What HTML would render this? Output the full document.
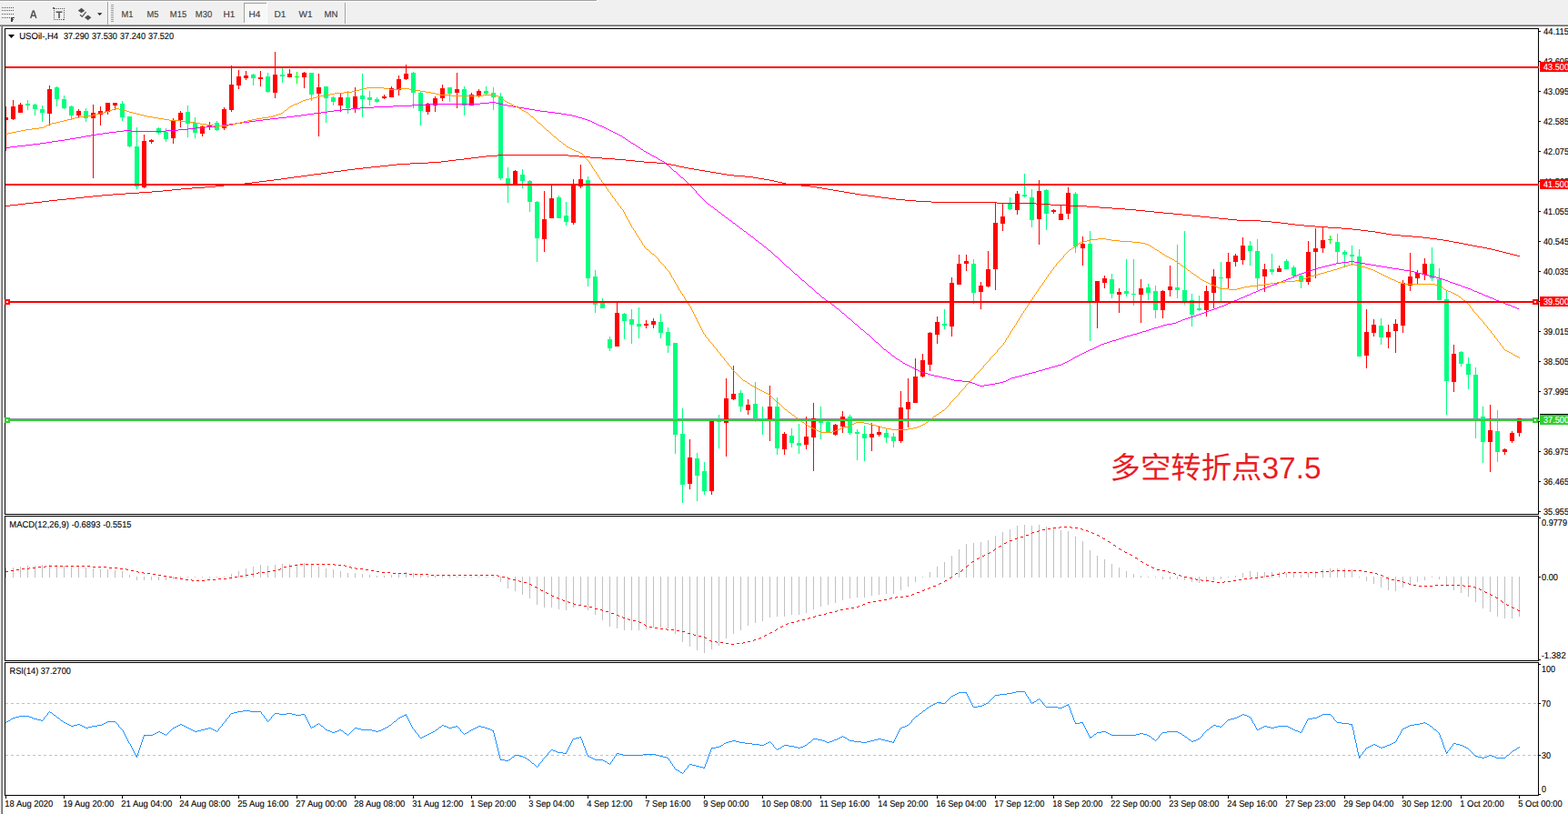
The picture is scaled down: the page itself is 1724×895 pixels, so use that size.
<!DOCTYPE html>
<html><head><meta charset="utf-8"><title>USOil H4</title><style>html,body{margin:0;padding:0;background:#fff;overflow:hidden}body{width:1724px;height:895px;position:relative;font-family:"Liberation Sans",sans-serif}</style></head><body><svg width="1724" height="895" viewBox="0 0 1724 895" style="position:absolute;left:0;top:0" font-family="Liberation Sans, sans-serif" text-rendering="geometricPrecision">
<g shape-rendering="crispEdges">
<rect x="0" y="0" width="1724" height="895" fill="#fff"/>
<rect x="0" y="0" width="1724" height="27" fill="#f0f0f0"/>
<rect x="0" y="0" width="656" height="1" fill="#a0a0a0"/>
<rect x="0" y="1" width="657" height="1" fill="#fff"/><rect x="656" y="0" width="1" height="1" fill="#fff"/>
<rect x="0" y="27" width="1724" height="1" fill="#a0a0a0"/>
<rect x="0" y="28" width="1724" height="1" fill="#696969"/>
<rect x="0" y="29" width="1" height="866" fill="#f0f0f0"/>
<rect x="1" y="28" width="1" height="867" fill="#a0a0a0"/>
<rect x="2" y="28" width="1" height="867" fill="#696969"/>
<rect x="5" y="31" width="1687" height="1" fill="#000"/><rect x="5" y="565" width="1687" height="1" fill="#000"/><rect x="5" y="31" width="1" height="535" fill="#000"/><rect x="1691" y="31" width="1" height="535" fill="#000"/>
<rect x="5" y="567" width="1687" height="1" fill="#000"/><rect x="5" y="726" width="1687" height="1" fill="#000"/><rect x="5" y="567" width="1" height="160" fill="#000"/><rect x="1691" y="567" width="1" height="160" fill="#000"/>
<rect x="5" y="728" width="1687" height="1" fill="#000"/><rect x="5" y="874" width="1687" height="1" fill="#000"/><rect x="5" y="728" width="1" height="147" fill="#000"/><rect x="1691" y="728" width="1" height="147" fill="#000"/>
</g>
<defs><clipPath id="cm"><rect x="6" y="32" width="1686" height="533"/></clipPath><clipPath id="cd"><rect x="6" y="568" width="1685" height="158"/></clipPath><clipPath id="cr"><rect x="6" y="729" width="1685" height="145"/></clipPath></defs>
<g clip-path="url(#cm)" shape-rendering="crispEdges">
<rect x="6" y="460" width="1685" height="1" fill="#8a8fa6"/>
<rect x="6" y="117" width="1" height="49" fill="#ff0000"/><rect x="4" y="129" width="5" height="3" fill="#ff0000"/><rect x="14" y="110" width="1" height="22" fill="#ff0000"/><rect x="12" y="117" width="5" height="14" fill="#ff0000"/><rect x="22" y="113" width="1" height="11" fill="#ff0000"/><rect x="20" y="115" width="5" height="9" fill="#ff0000"/><rect x="30" y="110" width="1" height="11" fill="#00ff7f"/><rect x="28" y="114" width="5" height="2" fill="#00ff7f"/><rect x="38" y="114" width="1" height="13" fill="#00ff7f"/><rect x="36" y="115" width="5" height="5" fill="#00ff7f"/><rect x="46" y="116" width="1" height="18" fill="#00ff7f"/><rect x="44" y="120" width="5" height="4" fill="#00ff7f"/><rect x="54" y="94" width="1" height="44" fill="#ff0000"/><rect x="52" y="98" width="5" height="27" fill="#ff0000"/><rect x="62" y="95" width="1" height="22" fill="#00ff7f"/><rect x="60" y="96" width="5" height="13" fill="#00ff7f"/><rect x="70" y="105" width="1" height="15" fill="#00ff7f"/><rect x="68" y="109" width="5" height="10" fill="#00ff7f"/><rect x="78" y="116" width="1" height="16" fill="#00ff7f"/><rect x="76" y="117" width="5" height="10" fill="#00ff7f"/><rect x="86" y="120" width="1" height="10" fill="#ff0000"/><rect x="84" y="122" width="5" height="5" fill="#ff0000"/><rect x="94" y="119" width="1" height="15" fill="#00ff7f"/><rect x="92" y="122" width="5" height="8" fill="#00ff7f"/><rect x="102" y="115" width="1" height="81" fill="#ff0000"/><rect x="100" y="124" width="5" height="6" fill="#ff0000"/><rect x="110" y="117" width="1" height="21" fill="#ff0000"/><rect x="108" y="122" width="5" height="4" fill="#ff0000"/><rect x="118" y="113" width="1" height="13" fill="#ff0000"/><rect x="116" y="113" width="5" height="10" fill="#ff0000"/><rect x="126" y="113" width="1" height="8" fill="#ff0000"/><rect x="124" y="113" width="5" height="3" fill="#ff0000"/><rect x="134" y="111" width="1" height="22" fill="#00ff7f"/><rect x="132" y="114" width="5" height="15" fill="#00ff7f"/><rect x="142" y="128" width="1" height="34" fill="#00ff7f"/><rect x="140" y="128" width="5" height="33" fill="#00ff7f"/><rect x="150" y="140" width="1" height="68" fill="#00ff7f"/><rect x="148" y="161" width="5" height="44" fill="#00ff7f"/><rect x="158" y="148" width="1" height="59" fill="#ff0000"/><rect x="156" y="155" width="5" height="51" fill="#ff0000"/><rect x="166" y="153" width="1" height="5" fill="#ff0000"/><rect x="164" y="154" width="5" height="2" fill="#ff0000"/><rect x="174" y="140" width="1" height="8" fill="#00ff7f"/><rect x="172" y="141" width="5" height="5" fill="#00ff7f"/><rect x="182" y="141" width="1" height="15" fill="#00ff7f"/><rect x="180" y="145" width="5" height="8" fill="#00ff7f"/><rect x="190" y="130" width="1" height="28" fill="#ff0000"/><rect x="188" y="132" width="5" height="20" fill="#ff0000"/><rect x="198" y="122" width="1" height="18" fill="#ff0000"/><rect x="196" y="124" width="5" height="8" fill="#ff0000"/><rect x="206" y="116" width="1" height="35" fill="#00ff7f"/><rect x="204" y="123" width="5" height="13" fill="#00ff7f"/><rect x="214" y="129" width="1" height="23" fill="#00ff7f"/><rect x="212" y="135" width="5" height="11" fill="#00ff7f"/><rect x="222" y="138" width="1" height="12" fill="#ff0000"/><rect x="220" y="139" width="5" height="8" fill="#ff0000"/><rect x="230" y="134" width="1" height="9" fill="#ff0000"/><rect x="228" y="137" width="5" height="3" fill="#ff0000"/><rect x="238" y="133" width="1" height="11" fill="#00ff7f"/><rect x="236" y="135" width="5" height="8" fill="#00ff7f"/><rect x="246" y="118" width="1" height="25" fill="#ff0000"/><rect x="244" y="120" width="5" height="21" fill="#ff0000"/><rect x="254" y="72" width="1" height="51" fill="#ff0000"/><rect x="252" y="93" width="5" height="28" fill="#ff0000"/><rect x="262" y="77" width="1" height="21" fill="#ff0000"/><rect x="260" y="84" width="5" height="10" fill="#ff0000"/><rect x="270" y="78" width="1" height="10" fill="#ff0000"/><rect x="268" y="83" width="5" height="3" fill="#ff0000"/><rect x="278" y="81" width="1" height="13" fill="#00ff7f"/><rect x="276" y="82" width="5" height="4" fill="#00ff7f"/><rect x="286" y="78" width="1" height="17" fill="#ff0000"/><rect x="284" y="85" width="5" height="2" fill="#ff0000"/><rect x="294" y="80" width="1" height="22" fill="#00ff7f"/><rect x="292" y="84" width="5" height="17" fill="#00ff7f"/><rect x="302" y="57" width="1" height="51" fill="#ff0000"/><rect x="300" y="82" width="5" height="20" fill="#ff0000"/><rect x="310" y="75" width="1" height="16" fill="#00ff7f"/><rect x="308" y="82" width="5" height="2" fill="#00ff7f"/><rect x="318" y="76" width="1" height="9" fill="#ff0000"/><rect x="316" y="81" width="5" height="4" fill="#ff0000"/><rect x="326" y="79" width="1" height="13" fill="#00ff00"/><rect x="324" y="84" width="5" height="1" fill="#00ff00"/><rect x="334" y="79" width="1" height="18" fill="#ff0000"/><rect x="332" y="80" width="5" height="5" fill="#ff0000"/><rect x="342" y="80" width="1" height="31" fill="#00ff7f"/><rect x="340" y="80" width="5" height="24" fill="#00ff7f"/><rect x="350" y="81" width="1" height="69" fill="#ff0000"/><rect x="348" y="96" width="5" height="7" fill="#ff0000"/><rect x="358" y="95" width="1" height="40" fill="#00ff7f"/><rect x="356" y="95" width="5" height="13" fill="#00ff7f"/><rect x="366" y="106" width="1" height="10" fill="#00ff7f"/><rect x="364" y="107" width="5" height="5" fill="#00ff7f"/><rect x="374" y="103" width="1" height="20" fill="#ff0000"/><rect x="372" y="107" width="5" height="9" fill="#ff0000"/><rect x="382" y="100" width="1" height="25" fill="#00ff7f"/><rect x="380" y="107" width="5" height="12" fill="#00ff7f"/><rect x="390" y="96" width="1" height="28" fill="#ff0000"/><rect x="388" y="106" width="5" height="13" fill="#ff0000"/><rect x="398" y="81" width="1" height="48" fill="#00ff7f"/><rect x="396" y="105" width="5" height="4" fill="#00ff7f"/><rect x="406" y="100" width="1" height="16" fill="#00ff7f"/><rect x="404" y="107" width="5" height="3" fill="#00ff7f"/><rect x="414" y="107" width="1" height="6" fill="#00ff7f"/><rect x="412" y="109" width="5" height="3" fill="#00ff7f"/><rect x="422" y="104" width="1" height="5" fill="#ff0000"/><rect x="420" y="106" width="5" height="2" fill="#ff0000"/><rect x="430" y="95" width="1" height="12" fill="#ff0000"/><rect x="428" y="97" width="5" height="10" fill="#ff0000"/><rect x="438" y="83" width="1" height="22" fill="#ff0000"/><rect x="436" y="87" width="5" height="12" fill="#ff0000"/><rect x="446" y="71" width="1" height="17" fill="#ff0000"/><rect x="444" y="81" width="5" height="6" fill="#ff0000"/><rect x="454" y="79" width="1" height="40" fill="#00ff7f"/><rect x="452" y="80" width="5" height="22" fill="#00ff7f"/><rect x="462" y="100" width="1" height="38" fill="#00ff7f"/><rect x="460" y="102" width="5" height="20" fill="#00ff7f"/><rect x="470" y="113" width="1" height="13" fill="#ff0000"/><rect x="468" y="114" width="5" height="9" fill="#ff0000"/><rect x="478" y="106" width="1" height="17" fill="#ff0000"/><rect x="476" y="108" width="5" height="8" fill="#ff0000"/><rect x="486" y="93" width="1" height="18" fill="#ff0000"/><rect x="484" y="97" width="5" height="11" fill="#ff0000"/><rect x="494" y="96" width="1" height="16" fill="#00ff7f"/><rect x="492" y="96" width="5" height="7" fill="#00ff7f"/><rect x="502" y="80" width="1" height="39" fill="#ff0000"/><rect x="500" y="98" width="5" height="4" fill="#ff0000"/><rect x="510" y="95" width="1" height="32" fill="#00ff7f"/><rect x="508" y="98" width="5" height="18" fill="#00ff7f"/><rect x="518" y="102" width="1" height="14" fill="#ff0000"/><rect x="516" y="104" width="5" height="12" fill="#ff0000"/><rect x="526" y="98" width="1" height="9" fill="#ff0000"/><rect x="524" y="100" width="5" height="5" fill="#ff0000"/><rect x="534" y="95" width="1" height="9" fill="#00ff7f"/><rect x="532" y="100" width="5" height="3" fill="#00ff7f"/><rect x="542" y="96" width="1" height="25" fill="#00ff7f"/><rect x="540" y="102" width="5" height="5" fill="#00ff7f"/><rect x="550" y="102" width="1" height="96" fill="#00ff7f"/><rect x="548" y="106" width="5" height="90" fill="#00ff7f"/><rect x="558" y="184" width="1" height="39" fill="#00ff7f"/><rect x="556" y="196" width="5" height="6" fill="#00ff7f"/><rect x="566" y="187" width="1" height="15" fill="#ff0000"/><rect x="564" y="188" width="5" height="14" fill="#ff0000"/><rect x="574" y="186" width="1" height="21" fill="#00ff7f"/><rect x="572" y="192" width="5" height="7" fill="#00ff7f"/><rect x="582" y="198" width="1" height="35" fill="#00ff7f"/><rect x="580" y="199" width="5" height="23" fill="#00ff7f"/><rect x="590" y="221" width="1" height="67" fill="#00ff7f"/><rect x="588" y="222" width="5" height="40" fill="#00ff7f"/><rect x="598" y="210" width="1" height="67" fill="#ff0000"/><rect x="596" y="241" width="5" height="22" fill="#ff0000"/><rect x="606" y="203" width="1" height="37" fill="#ff0000"/><rect x="604" y="218" width="5" height="22" fill="#ff0000"/><rect x="614" y="215" width="1" height="25" fill="#00ff7f"/><rect x="612" y="217" width="5" height="23" fill="#00ff7f"/><rect x="622" y="222" width="1" height="26" fill="#00ff7f"/><rect x="620" y="237" width="5" height="7" fill="#00ff7f"/><rect x="630" y="197" width="1" height="50" fill="#ff0000"/><rect x="628" y="203" width="5" height="42" fill="#ff0000"/><rect x="638" y="181" width="1" height="26" fill="#ff0000"/><rect x="636" y="197" width="5" height="8" fill="#ff0000"/><rect x="646" y="194" width="1" height="121" fill="#00ff7f"/><rect x="644" y="198" width="5" height="108" fill="#00ff7f"/><rect x="654" y="297" width="1" height="47" fill="#00ff7f"/><rect x="652" y="304" width="5" height="31" fill="#00ff7f"/><rect x="662" y="328" width="1" height="11" fill="#00ff7f"/><rect x="660" y="333" width="5" height="6" fill="#00ff7f"/><rect x="670" y="370" width="1" height="16" fill="#00ff7f"/><rect x="668" y="373" width="5" height="10" fill="#00ff7f"/><rect x="678" y="332" width="1" height="49" fill="#ff0000"/><rect x="676" y="344" width="5" height="37" fill="#ff0000"/><rect x="686" y="344" width="1" height="29" fill="#00ff7f"/><rect x="684" y="345" width="5" height="8" fill="#00ff7f"/><rect x="694" y="340" width="1" height="38" fill="#00ff7f"/><rect x="692" y="351" width="5" height="6" fill="#00ff7f"/><rect x="702" y="338" width="1" height="34" fill="#00ff7f"/><rect x="700" y="356" width="5" height="3" fill="#00ff7f"/><rect x="710" y="352" width="1" height="9" fill="#ff0000"/><rect x="708" y="356" width="5" height="2" fill="#ff0000"/><rect x="718" y="350" width="1" height="11" fill="#ff0000"/><rect x="716" y="353" width="5" height="4" fill="#ff0000"/><rect x="726" y="345" width="1" height="27" fill="#00ff7f"/><rect x="724" y="354" width="5" height="12" fill="#00ff7f"/><rect x="734" y="360" width="1" height="28" fill="#00ff7f"/><rect x="732" y="365" width="5" height="15" fill="#00ff7f"/><rect x="742" y="377" width="1" height="122" fill="#00ff7f"/><rect x="740" y="377" width="5" height="101" fill="#00ff7f"/><rect x="750" y="449" width="1" height="104" fill="#00ff7f"/><rect x="748" y="477" width="5" height="56" fill="#00ff7f"/><rect x="758" y="483" width="1" height="55" fill="#ff0000"/><rect x="756" y="503" width="5" height="29" fill="#ff0000"/><rect x="766" y="498" width="1" height="53" fill="#00ff7f"/><rect x="764" y="504" width="5" height="19" fill="#00ff7f"/><rect x="774" y="508" width="1" height="36" fill="#00ff7f"/><rect x="772" y="518" width="5" height="22" fill="#00ff7f"/><rect x="782" y="462" width="1" height="82" fill="#ff0000"/><rect x="780" y="462" width="5" height="78" fill="#ff0000"/><rect x="790" y="456" width="1" height="37" fill="#00ff7f"/><rect x="788" y="461" width="5" height="3" fill="#00ff7f"/><rect x="798" y="416" width="1" height="86" fill="#ff0000"/><rect x="796" y="438" width="5" height="27" fill="#ff0000"/><rect x="806" y="402" width="1" height="38" fill="#ff0000"/><rect x="804" y="433" width="5" height="6" fill="#ff0000"/><rect x="814" y="429" width="1" height="24" fill="#00ff7f"/><rect x="812" y="432" width="5" height="15" fill="#00ff7f"/><rect x="822" y="439" width="1" height="17" fill="#ff0000"/><rect x="820" y="445" width="5" height="6" fill="#ff0000"/><rect x="830" y="420" width="1" height="44" fill="#00ff7f"/><rect x="828" y="444" width="5" height="16" fill="#00ff7f"/><rect x="838" y="447" width="1" height="31" fill="#00ff7f"/><rect x="836" y="460" width="5" height="2" fill="#00ff7f"/><rect x="846" y="424" width="1" height="61" fill="#ff0000"/><rect x="844" y="447" width="5" height="14" fill="#ff0000"/><rect x="854" y="437" width="1" height="63" fill="#00ff7f"/><rect x="852" y="447" width="5" height="46" fill="#00ff7f"/><rect x="862" y="475" width="1" height="25" fill="#ff0000"/><rect x="860" y="477" width="5" height="17" fill="#ff0000"/><rect x="870" y="471" width="1" height="21" fill="#00ff7f"/><rect x="868" y="479" width="5" height="8" fill="#00ff7f"/><rect x="878" y="466" width="1" height="33" fill="#00ff7f"/><rect x="876" y="487" width="5" height="3" fill="#00ff7f"/><rect x="886" y="458" width="1" height="36" fill="#ff0000"/><rect x="884" y="480" width="5" height="9" fill="#ff0000"/><rect x="894" y="443" width="1" height="75" fill="#ff0000"/><rect x="892" y="460" width="5" height="21" fill="#ff0000"/><rect x="902" y="447" width="1" height="36" fill="#00ff7f"/><rect x="900" y="462" width="5" height="3" fill="#00ff7f"/><rect x="910" y="463" width="1" height="13" fill="#00ff7f"/><rect x="908" y="464" width="5" height="11" fill="#00ff7f"/><rect x="918" y="466" width="1" height="13" fill="#ff0000"/><rect x="916" y="467" width="5" height="11" fill="#ff0000"/><rect x="926" y="452" width="1" height="24" fill="#ff0000"/><rect x="924" y="458" width="5" height="11" fill="#ff0000"/><rect x="934" y="456" width="1" height="22" fill="#00ff7f"/><rect x="932" y="458" width="5" height="18" fill="#00ff7f"/><rect x="942" y="472" width="1" height="34" fill="#00ff7f"/><rect x="940" y="475" width="5" height="2" fill="#00ff7f"/><rect x="950" y="468" width="1" height="39" fill="#00ff7f"/><rect x="948" y="477" width="5" height="5" fill="#00ff7f"/><rect x="958" y="465" width="1" height="31" fill="#ff0000"/><rect x="956" y="477" width="5" height="4" fill="#ff0000"/><rect x="966" y="469" width="1" height="11" fill="#ff0000"/><rect x="964" y="475" width="5" height="3" fill="#ff0000"/><rect x="974" y="472" width="1" height="15" fill="#00ff7f"/><rect x="972" y="476" width="5" height="5" fill="#00ff7f"/><rect x="982" y="476" width="1" height="16" fill="#00ff7f"/><rect x="980" y="480" width="5" height="5" fill="#00ff7f"/><rect x="990" y="430" width="1" height="57" fill="#ff0000"/><rect x="988" y="448" width="5" height="37" fill="#ff0000"/><rect x="998" y="416" width="1" height="54" fill="#ff0000"/><rect x="996" y="442" width="5" height="8" fill="#ff0000"/><rect x="1006" y="394" width="1" height="49" fill="#ff0000"/><rect x="1004" y="414" width="5" height="29" fill="#ff0000"/><rect x="1014" y="389" width="1" height="26" fill="#ff0000"/><rect x="1012" y="396" width="5" height="18" fill="#ff0000"/><rect x="1022" y="365" width="1" height="43" fill="#ff0000"/><rect x="1020" y="366" width="5" height="35" fill="#ff0000"/><rect x="1030" y="348" width="1" height="30" fill="#ff0000"/><rect x="1028" y="354" width="5" height="14" fill="#ff0000"/><rect x="1038" y="340" width="1" height="22" fill="#00ff7f"/><rect x="1036" y="356" width="5" height="2" fill="#00ff7f"/><rect x="1046" y="305" width="1" height="65" fill="#ff0000"/><rect x="1044" y="311" width="5" height="48" fill="#ff0000"/><rect x="1054" y="280" width="1" height="33" fill="#ff0000"/><rect x="1052" y="290" width="5" height="23" fill="#ff0000"/><rect x="1062" y="280" width="1" height="18" fill="#ff0000"/><rect x="1060" y="287" width="5" height="3" fill="#ff0000"/><rect x="1070" y="285" width="1" height="49" fill="#00ff7f"/><rect x="1068" y="290" width="5" height="32" fill="#00ff7f"/><rect x="1078" y="310" width="1" height="30" fill="#ff0000"/><rect x="1076" y="314" width="5" height="7" fill="#ff0000"/><rect x="1086" y="276" width="1" height="40" fill="#ff0000"/><rect x="1084" y="296" width="5" height="19" fill="#ff0000"/><rect x="1094" y="223" width="1" height="96" fill="#ff0000"/><rect x="1092" y="245" width="5" height="51" fill="#ff0000"/><rect x="1102" y="223" width="1" height="31" fill="#ff0000"/><rect x="1100" y="238" width="5" height="8" fill="#ff0000"/><rect x="1110" y="217" width="1" height="14" fill="#00ff7f"/><rect x="1108" y="224" width="5" height="6" fill="#00ff7f"/><rect x="1118" y="210" width="1" height="26" fill="#ff0000"/><rect x="1116" y="213" width="5" height="18" fill="#ff0000"/><rect x="1126" y="191" width="1" height="26" fill="#00ff7f"/><rect x="1124" y="214" width="5" height="2" fill="#00ff7f"/><rect x="1134" y="208" width="1" height="42" fill="#00ff7f"/><rect x="1132" y="217" width="5" height="25" fill="#00ff7f"/><rect x="1142" y="198" width="1" height="71" fill="#ff0000"/><rect x="1140" y="210" width="5" height="31" fill="#ff0000"/><rect x="1150" y="208" width="1" height="45" fill="#00ff7f"/><rect x="1148" y="209" width="5" height="26" fill="#00ff7f"/><rect x="1158" y="230" width="1" height="5" fill="#ff0000"/><rect x="1156" y="231" width="5" height="2" fill="#ff0000"/><rect x="1166" y="226" width="1" height="16" fill="#ff0000"/><rect x="1164" y="235" width="5" height="7" fill="#ff0000"/><rect x="1174" y="206" width="1" height="35" fill="#ff0000"/><rect x="1172" y="212" width="5" height="23" fill="#ff0000"/><rect x="1182" y="211" width="1" height="67" fill="#00ff7f"/><rect x="1180" y="213" width="5" height="58" fill="#00ff7f"/><rect x="1190" y="260" width="1" height="32" fill="#ff0000"/><rect x="1188" y="268" width="5" height="5" fill="#ff0000"/><rect x="1198" y="254" width="1" height="121" fill="#00ff7f"/><rect x="1196" y="268" width="5" height="63" fill="#00ff7f"/><rect x="1206" y="309" width="1" height="52" fill="#ff0000"/><rect x="1204" y="309" width="5" height="22" fill="#ff0000"/><rect x="1214" y="303" width="1" height="14" fill="#ff0000"/><rect x="1212" y="306" width="5" height="5" fill="#ff0000"/><rect x="1222" y="301" width="1" height="27" fill="#00ff7f"/><rect x="1220" y="307" width="5" height="16" fill="#00ff7f"/><rect x="1230" y="317" width="1" height="27" fill="#ff0000"/><rect x="1228" y="321" width="5" height="3" fill="#ff0000"/><rect x="1238" y="285" width="1" height="41" fill="#00ff7f"/><rect x="1236" y="320" width="5" height="3" fill="#00ff7f"/><rect x="1246" y="285" width="1" height="51" fill="#00ff7f"/><rect x="1244" y="323" width="5" height="1" fill="#00ff7f"/><rect x="1254" y="307" width="1" height="48" fill="#ff0000"/><rect x="1252" y="317" width="5" height="7" fill="#ff0000"/><rect x="1262" y="312" width="1" height="18" fill="#00ff7f"/><rect x="1260" y="316" width="5" height="6" fill="#00ff7f"/><rect x="1270" y="314" width="1" height="36" fill="#00ff7f"/><rect x="1268" y="320" width="5" height="21" fill="#00ff7f"/><rect x="1278" y="319" width="1" height="31" fill="#ff0000"/><rect x="1276" y="320" width="5" height="21" fill="#ff0000"/><rect x="1286" y="292" width="1" height="34" fill="#ff0000"/><rect x="1284" y="315" width="5" height="4" fill="#ff0000"/><rect x="1294" y="269" width="1" height="59" fill="#00ff7f"/><rect x="1292" y="316" width="5" height="3" fill="#00ff7f"/><rect x="1302" y="254" width="1" height="81" fill="#00ff7f"/><rect x="1300" y="319" width="5" height="12" fill="#00ff7f"/><rect x="1310" y="323" width="1" height="36" fill="#00ff7f"/><rect x="1308" y="330" width="5" height="16" fill="#00ff7f"/><rect x="1318" y="325" width="1" height="17" fill="#00ff7f"/><rect x="1316" y="339" width="5" height="2" fill="#00ff7f"/><rect x="1326" y="314" width="1" height="34" fill="#ff0000"/><rect x="1324" y="320" width="5" height="21" fill="#ff0000"/><rect x="1334" y="296" width="1" height="43" fill="#ff0000"/><rect x="1332" y="304" width="5" height="18" fill="#ff0000"/><rect x="1342" y="288" width="1" height="43" fill="#00ff7f"/><rect x="1340" y="305" width="5" height="1" fill="#00ff7f"/><rect x="1350" y="278" width="1" height="39" fill="#ff0000"/><rect x="1348" y="288" width="5" height="18" fill="#ff0000"/><rect x="1358" y="279" width="1" height="14" fill="#ff0000"/><rect x="1356" y="281" width="5" height="7" fill="#ff0000"/><rect x="1366" y="261" width="1" height="30" fill="#ff0000"/><rect x="1364" y="270" width="5" height="16" fill="#ff0000"/><rect x="1374" y="265" width="1" height="27" fill="#00ff7f"/><rect x="1372" y="270" width="5" height="6" fill="#00ff7f"/><rect x="1382" y="263" width="1" height="56" fill="#00ff7f"/><rect x="1380" y="276" width="5" height="30" fill="#00ff7f"/><rect x="1390" y="290" width="1" height="31" fill="#ff0000"/><rect x="1388" y="296" width="5" height="8" fill="#ff0000"/><rect x="1398" y="279" width="1" height="23" fill="#00ff7f"/><rect x="1396" y="296" width="5" height="3" fill="#00ff7f"/><rect x="1406" y="292" width="1" height="7" fill="#ff0000"/><rect x="1404" y="295" width="5" height="4" fill="#ff0000"/><rect x="1414" y="285" width="1" height="11" fill="#00ff7f"/><rect x="1412" y="287" width="5" height="9" fill="#00ff7f"/><rect x="1422" y="292" width="1" height="14" fill="#00ff7f"/><rect x="1420" y="294" width="5" height="9" fill="#00ff7f"/><rect x="1430" y="301" width="1" height="16" fill="#00ff7f"/><rect x="1428" y="303" width="5" height="7" fill="#00ff7f"/><rect x="1438" y="265" width="1" height="48" fill="#ff0000"/><rect x="1436" y="277" width="5" height="33" fill="#ff0000"/><rect x="1446" y="251" width="1" height="55" fill="#ff0000"/><rect x="1444" y="273" width="5" height="4" fill="#ff0000"/><rect x="1454" y="249" width="1" height="29" fill="#ff0000"/><rect x="1452" y="264" width="5" height="9" fill="#ff0000"/><rect x="1462" y="259" width="1" height="9" fill="#00ff00"/><rect x="1460" y="263" width="5" height="1" fill="#00ff00"/><rect x="1470" y="257" width="1" height="32" fill="#00ff7f"/><rect x="1468" y="266" width="5" height="11" fill="#00ff7f"/><rect x="1478" y="275" width="1" height="18" fill="#00ff7f"/><rect x="1476" y="277" width="5" height="3" fill="#00ff7f"/><rect x="1486" y="270" width="1" height="22" fill="#00ff7f"/><rect x="1484" y="280" width="5" height="2" fill="#00ff7f"/><rect x="1494" y="274" width="1" height="118" fill="#00ff7f"/><rect x="1492" y="282" width="5" height="110" fill="#00ff7f"/><rect x="1502" y="340" width="1" height="65" fill="#ff0000"/><rect x="1500" y="365" width="5" height="26" fill="#ff0000"/><rect x="1510" y="351" width="1" height="19" fill="#ff0000"/><rect x="1508" y="357" width="5" height="9" fill="#ff0000"/><rect x="1518" y="350" width="1" height="29" fill="#00ff7f"/><rect x="1516" y="358" width="5" height="13" fill="#00ff7f"/><rect x="1526" y="357" width="1" height="26" fill="#ff0000"/><rect x="1524" y="365" width="5" height="6" fill="#ff0000"/><rect x="1534" y="351" width="1" height="37" fill="#ff0000"/><rect x="1532" y="356" width="5" height="8" fill="#ff0000"/><rect x="1542" y="308" width="1" height="58" fill="#ff0000"/><rect x="1540" y="311" width="5" height="47" fill="#ff0000"/><rect x="1550" y="278" width="1" height="42" fill="#ff0000"/><rect x="1548" y="304" width="5" height="10" fill="#ff0000"/><rect x="1558" y="297" width="1" height="16" fill="#ff0000"/><rect x="1556" y="300" width="5" height="6" fill="#ff0000"/><rect x="1566" y="284" width="1" height="24" fill="#ff0000"/><rect x="1564" y="290" width="5" height="12" fill="#ff0000"/><rect x="1574" y="272" width="1" height="37" fill="#00ff7f"/><rect x="1572" y="290" width="5" height="16" fill="#00ff7f"/><rect x="1582" y="295" width="1" height="35" fill="#00ff7f"/><rect x="1580" y="307" width="5" height="23" fill="#00ff7f"/><rect x="1590" y="320" width="1" height="136" fill="#00ff7f"/><rect x="1588" y="329" width="5" height="90" fill="#00ff7f"/><rect x="1598" y="379" width="1" height="52" fill="#ff0000"/><rect x="1596" y="389" width="5" height="31" fill="#ff0000"/><rect x="1606" y="386" width="1" height="17" fill="#00ff7f"/><rect x="1604" y="387" width="5" height="13" fill="#00ff7f"/><rect x="1614" y="393" width="1" height="35" fill="#00ff7f"/><rect x="1612" y="400" width="5" height="12" fill="#00ff7f"/><rect x="1622" y="404" width="1" height="78" fill="#00ff7f"/><rect x="1620" y="412" width="5" height="48" fill="#00ff7f"/><rect x="1630" y="447" width="1" height="62" fill="#00ff7f"/><rect x="1628" y="458" width="5" height="28" fill="#00ff7f"/><rect x="1638" y="445" width="1" height="74" fill="#ff0000"/><rect x="1636" y="473" width="5" height="13" fill="#ff0000"/><rect x="1646" y="451" width="1" height="57" fill="#00ff7f"/><rect x="1644" y="474" width="5" height="23" fill="#00ff7f"/><rect x="1654" y="493" width="1" height="7" fill="#ff0000"/><rect x="1652" y="494" width="5" height="3" fill="#ff0000"/><rect x="1662" y="474" width="1" height="13" fill="#ff0000"/><rect x="1660" y="476" width="5" height="9" fill="#ff0000"/><rect x="1670" y="460" width="1" height="20" fill="#ff0000"/><rect x="1668" y="460" width="5" height="16" fill="#ff0000"/>
<path fill="#ff0000" d="M6 226h5v1h-5zM11 225h9v1h-9zM20 224h8v1h-8zM28 223h9v1h-9zM37 222h9v1h-9zM46 221h8v1h-8zM54 220h9v1h-9zM63 219h10v1h-10zM73 218h10v1h-10zM83 217h9v1h-9zM92 216h10v1h-10zM102 215h10v1h-10zM112 214h12v1h-12zM124 213h14v1h-14zM138 212h15v1h-15zM153 211h14v1h-14zM167 210h12v1h-12zM179 209h10v1h-10zM189 208h10v1h-10zM199 207h12v1h-12zM211 206h14v1h-14zM225 205h12v1h-12zM237 204h9v1h-9zM246 203h12v1h-12zM258 202h11v1h-11zM269 201h8v1h-8zM277 200h8v1h-8zM285 199h8v1h-8zM293 198h8v1h-8zM301 197h8v1h-8zM309 196h7v1h-7zM316 195h7v1h-7zM323 194h8v1h-8zM331 193h7v1h-7zM338 192h7v1h-7zM345 191h8v1h-8zM353 190h7v1h-7zM360 189h7v1h-7zM367 188h8v1h-8zM375 187h7v1h-7zM382 186h8v1h-8zM390 185h9v1h-9zM399 184h9v1h-9zM408 183h10v1h-10zM418 182h9v1h-9zM427 181h9v1h-9zM436 180h15v1h-15zM451 179h20v1h-20zM471 178h14v1h-14zM485 177h8v1h-8zM493 176h8v1h-8zM501 175h9v1h-9zM510 174h8v1h-8zM518 173h8v1h-8zM526 172h8v1h-8zM534 171h13v1h-13zM547 170h78v1h-78zM625 171h12v1h-12zM637 172h12v1h-12zM649 173h13v1h-13zM662 174h14v1h-14zM676 175h12v1h-12zM688 176h10v1h-10zM698 177h10v1h-10zM708 178h14v1h-14zM722 179h11v1h-11zM733 180h5v1h-5zM738 181h5v1h-5zM743 182h4v1h-4zM747 183h5v1h-5zM752 184h5v1h-5zM757 185h6v1h-6zM763 186h6v1h-6zM769 187h6v1h-6zM775 188h6v1h-6zM781 189h6v1h-6zM787 190h6v1h-6zM793 191h6v1h-6zM799 192h8v1h-8zM807 193h12v1h-12zM819 194h9v1h-9zM828 195h6v1h-6zM834 196h6v1h-6zM840 197h6v1h-6zM846 198h5v1h-5zM851 199h4v1h-4zM855 200h5v1h-5zM860 201h4v1h-4zM864 202h7v1h-7zM871 203h10v1h-10zM881 204h10v1h-10zM891 205h7v1h-7zM898 206h6v1h-6zM904 207h6v1h-6zM910 208h6v1h-6zM916 209h6v1h-6zM922 210h6v1h-6zM928 211h6v1h-6zM934 212h6v1h-6zM940 213h6v1h-6zM946 214h8v1h-8zM954 215h8v1h-8zM962 216h7v1h-7zM969 217h8v1h-8zM977 218h8v1h-8zM985 219h10v1h-10zM995 220h12v1h-12zM1007 221h17v1h-17zM1024 222h72v1h-72zM1096 223h43v1h-43zM1139 224h16v1h-16zM1155 225h20v1h-20zM1175 226h20v1h-20zM1195 227h14v1h-14zM1209 228h14v1h-14zM1223 229h14v1h-14zM1237 230h12v1h-12zM1249 231h10v1h-10zM1259 232h10v1h-10zM1269 233h10v1h-10zM1279 234h11v1h-11zM1290 235h10v1h-10zM1300 236h10v1h-10zM1310 237h10v1h-10zM1320 238h10v1h-10zM1330 239h10v1h-10zM1340 240h10v1h-10zM1350 241h10v1h-10zM1360 242h26v1h-26zM1386 243h12v1h-12zM1398 244h10v1h-10zM1408 245h8v1h-8zM1416 246h8v1h-8zM1424 247h10v1h-10zM1434 248h12v1h-12zM1446 249h14v1h-14zM1460 250h15v1h-15zM1475 251h12v1h-12zM1487 252h9v1h-9zM1496 253h8v1h-8zM1504 254h8v1h-8zM1512 255h6v1h-6zM1518 256h6v1h-6zM1524 257h6v1h-6zM1530 258h10v1h-10zM1540 259h13v1h-13zM1553 260h11v1h-11zM1564 261h8v1h-8zM1572 262h8v1h-8zM1580 263h7v1h-7zM1587 264h6v1h-6zM1593 265h5v1h-5zM1598 266h6v1h-6zM1604 267h5v1h-5zM1609 268h5v1h-5zM1614 269h5v1h-5zM1619 270h5v1h-5zM1624 271h6v1h-6zM1630 272h5v1h-5zM1635 273h5v1h-5zM1640 274h4v1h-4zM1644 275h4v1h-4zM1648 276h4v1h-4zM1652 277h4v1h-4zM1656 278h4v1h-4zM1660 279h4v1h-4zM1664 280h4v1h-4zM1668 281h3v1h-3z"/>
<path fill="#ff00ff" d="M6 162h5v1h-5zM11 161h8v1h-8zM19 160h9v1h-9zM28 159h8v1h-8zM36 158h8v1h-8zM44 157h7v1h-7zM51 156h6v1h-6zM57 155h7v1h-7zM64 154h7v1h-7zM71 153h6v1h-6zM77 152h6v1h-6zM83 151h6v1h-6zM89 150h5v1h-5zM94 149h6v1h-6zM100 148h6v1h-6zM106 147h7v1h-7zM113 146h7v1h-7zM120 145h8v1h-8zM128 144h8v1h-8zM136 143h8v1h-8zM144 144h38v1h-38zM182 143h14v1h-14zM196 142h11v1h-11zM207 141h8v1h-8zM215 140h11v1h-11zM226 139h11v1h-11zM237 138h7v1h-7zM244 137h8v1h-8zM252 136h7v1h-7zM259 135h7v1h-7zM266 134h8v1h-8zM274 133h7v1h-7zM281 132h8v1h-8zM289 131h8v1h-8zM297 130h9v1h-9zM306 129h9v1h-9zM315 128h8v1h-8zM323 127h8v1h-8zM331 126h7v1h-7zM338 125h7v1h-7zM345 124h8v1h-8zM353 123h7v1h-7zM360 122h7v1h-7zM367 121h9v1h-9zM376 120h10v1h-10zM386 119h10v1h-10zM396 118h15v1h-15zM411 117h21v1h-21zM432 116h21v1h-21zM453 115h18v1h-18zM471 114h57v1h-57zM528 113h10v1h-10zM538 112h7v1h-7zM545 113h4v1h-4zM549 114h4v1h-4zM553 115h5v1h-5zM558 116h6v1h-6zM564 117h6v1h-6zM570 118h6v1h-6zM576 119h6v1h-6zM582 120h6v1h-6zM588 121h6v1h-6zM594 122h8v1h-8zM602 123h8v1h-8zM610 124h7v1h-7zM617 125h6v1h-6zM623 126h6v1h-6zM629 127h4v1h-4zM633 128h3v1h-3zM636 129h4v1h-4zM640 130h3v1h-3zM643 131h3v1h-3zM646 132h3v1h-3zM649 133h2v1h-2zM651 134h2v1h-2zM653 135h2v1h-2zM655 136h2v1h-2zM657 137h2v1h-2zM659 138h3v1h-3zM662 139h2v1h-2zM664 140h2v1h-2zM666 141h2v1h-2zM668 142h2v1h-2zM670 143h2v1h-2zM672 144h2v1h-2zM674 145h2v1h-2zM676 146h2v1h-2zM678 147h2v1h-2zM680 148h2v1h-2zM682 149h2v1h-2zM684 150h1v1h-1zM685 151h2v1h-2zM687 152h1v1h-1zM688 153h2v1h-2zM690 154h1v1h-1zM691 155h2v1h-2zM693 156h1v1h-1zM694 157h2v1h-2zM696 158h2v1h-2zM698 159h1v1h-1zM699 160h2v1h-2zM701 161h1v1h-1zM702 162h2v1h-2zM704 163h1v1h-1zM705 164h2v1h-2zM707 165h1v1h-1zM708 166h2v1h-2zM710 167h2v1h-2zM712 168h2v1h-2zM714 169h1v1h-1zM715 170h2v1h-2zM717 171h2v1h-2zM719 172h2v1h-2zM721 173h2v1h-2zM723 174h1v1h-1zM724 175h2v1h-2zM726 176h2v1h-2zM728 177h2v1h-2zM730 178h1v1h-1zM731 179h1v1h-1zM732 180h1v1h-1zM733 181h2v1h-2zM735 182h1v1h-1zM736 183h1v1h-1zM737 184h1v1h-1zM738 185h1v1h-1zM739 186h1v1h-1zM740 187h1v1h-1zM741 188h2v1h-2zM743 189h1v1h-1zM744 190h1v1h-1zM745 191h1v1h-1zM746 192h1v1h-1zM747 193h1v1h-1zM748 194h1v1h-1zM749 195h2v1h-2zM751 196h1v1h-1zM752 197h1v1h-1zM753 198h1v1h-1zM754 199h1v1h-1zM755 200h1v1h-1zM756 201h1v1h-1zM757 202h1v1h-1zM758 203h1v1h-1zM759 204h1v1h-1zM760 205h1v1h-1zM761 206h1v1h-1zM762 207h1v1h-1zM763 208h1v1h-1zM764 209h1v1h-1zM765 210h1v2h-1zM766 212h1v1h-1zM767 213h1v1h-1zM768 214h1v1h-1zM769 215h1v1h-1zM770 216h1v1h-1zM771 217h1v1h-1zM772 218h1v1h-1zM773 219h1v1h-1zM774 220h1v1h-1zM775 221h1v1h-1zM776 222h1v1h-1zM777 223h1v1h-1zM778 224h2v1h-2zM780 225h1v1h-1zM781 226h1v1h-1zM782 227h2v1h-2zM784 228h1v1h-1zM785 229h1v1h-1zM786 230h2v1h-2zM788 231h1v1h-1zM789 232h1v1h-1zM790 233h2v1h-2zM792 234h1v1h-1zM793 235h1v1h-1zM794 236h2v1h-2zM796 237h1v1h-1zM797 238h1v1h-1zM798 239h2v1h-2zM800 240h1v1h-1zM801 241h1v1h-1zM802 242h2v1h-2zM804 243h1v1h-1zM805 244h1v1h-1zM806 245h2v1h-2zM808 246h1v1h-1zM809 247h1v1h-1zM810 248h2v1h-2zM812 249h1v1h-1zM813 250h1v1h-1zM814 251h2v1h-2zM816 252h1v1h-1zM817 253h1v1h-1zM818 254h2v1h-2zM820 255h1v1h-1zM821 256h1v1h-1zM822 257h2v1h-2zM824 258h1v1h-1zM825 259h1v1h-1zM826 260h2v1h-2zM828 261h1v1h-1zM829 262h1v1h-1zM830 263h1v1h-1zM831 264h2v1h-2zM833 265h1v1h-1zM834 266h1v1h-1zM835 267h2v1h-2zM837 268h1v1h-1zM838 269h1v1h-1zM839 270h1v1h-1zM840 271h2v1h-2zM842 272h1v1h-1zM843 273h1v1h-1zM844 274h1v1h-1zM845 275h2v1h-2zM847 276h1v1h-1zM848 277h1v1h-1zM849 278h1v1h-1zM850 279h1v1h-1zM851 280h1v1h-1zM852 281h1v1h-1zM853 282h2v1h-2zM855 283h1v1h-1zM856 284h1v1h-1zM857 285h1v1h-1zM858 286h1v1h-1zM859 287h1v1h-1zM860 288h1v1h-1zM861 289h1v1h-1zM862 290h1v1h-1zM863 291h1v1h-1zM864 292h1v1h-1zM865 293h2v1h-2zM867 294h1v1h-1zM868 295h1v1h-1zM869 296h1v1h-1zM870 297h1v1h-1zM871 298h1v1h-1zM872 299h1v1h-1zM873 300h1v1h-1zM874 301h2v1h-2zM876 302h1v1h-1zM877 303h1v1h-1zM878 304h1v1h-1zM879 305h1v1h-1zM880 306h1v1h-1zM881 307h1v1h-1zM882 308h2v1h-2zM884 309h1v1h-1zM885 310h1v1h-1zM886 311h1v1h-1zM887 312h1v1h-1zM888 313h1v1h-1zM889 314h1v1h-1zM890 315h2v1h-2zM892 316h1v1h-1zM893 317h1v1h-1zM894 318h1v1h-1zM895 319h1v1h-1zM896 320h1v1h-1zM897 321h1v1h-1zM898 322h2v1h-2zM900 323h1v1h-1zM901 324h1v1h-1zM902 325h1v1h-1zM903 326h1v1h-1zM904 327h2v1h-2zM906 328h1v1h-1zM907 329h1v1h-1zM908 330h2v1h-2zM910 331h1v1h-1zM911 332h2v1h-2zM913 333h1v1h-1zM914 334h1v1h-1zM915 335h2v1h-2zM917 336h1v1h-1zM918 337h1v1h-1zM919 338h1v1h-1zM920 339h2v1h-2zM922 340h1v1h-1zM923 341h1v1h-1zM924 342h1v1h-1zM925 343h1v1h-1zM926 344h2v1h-2zM928 345h1v1h-1zM929 346h1v1h-1zM930 347h1v1h-1zM931 348h1v1h-1zM932 349h1v1h-1zM933 350h2v1h-2zM935 351h1v1h-1zM936 352h1v1h-1zM937 353h1v1h-1zM938 354h1v1h-1zM939 355h1v1h-1zM940 356h2v1h-2zM942 357h1v1h-1zM943 358h1v1h-1zM944 359h1v1h-1zM945 360h1v1h-1zM946 361h1v1h-1zM947 362h2v1h-2zM949 363h1v1h-1zM950 364h1v1h-1zM951 365h1v1h-1zM952 366h1v1h-1zM953 367h2v1h-2zM955 368h1v1h-1zM956 369h1v1h-1zM957 370h1v1h-1zM958 371h1v1h-1zM959 372h1v1h-1zM960 373h1v1h-1zM961 374h1v1h-1zM962 375h1v1h-1zM963 376h2v1h-2zM965 377h1v1h-1zM966 378h1v1h-1zM967 379h1v1h-1zM968 380h1v1h-1zM969 381h1v1h-1zM970 382h1v1h-1zM971 383h1v1h-1zM972 384h2v1h-2zM974 385h1v1h-1zM975 386h1v1h-1zM976 387h2v1h-2zM978 388h1v1h-1zM979 389h1v1h-1zM980 390h1v1h-1zM981 391h2v1h-2zM983 392h1v1h-1zM984 393h1v1h-1zM985 394h2v1h-2zM987 395h2v1h-2zM989 396h1v1h-1zM990 397h2v1h-2zM992 398h1v1h-1zM993 399h2v1h-2zM995 400h2v1h-2zM997 401h2v1h-2zM999 402h2v1h-2zM1001 403h2v1h-2zM1003 404h2v1h-2zM1005 405h2v1h-2zM1007 406h2v1h-2zM1009 407h2v1h-2zM1011 408h2v1h-2zM1013 409h3v1h-3zM1016 410h4v1h-4zM1020 411h3v1h-3zM1023 412h4v1h-4zM1027 413h5v1h-5zM1032 414h4v1h-4zM1036 415h5v1h-5zM1041 416h4v1h-4zM1045 417h4v1h-4zM1049 418h9v1h-9zM1058 419h8v1h-8zM1066 420h3v1h-3zM1069 421h3v1h-3zM1072 422h2v1h-2zM1074 423h3v1h-3zM1077 424h5v1h-5zM1082 423h6v1h-6zM1088 422h6v1h-6zM1094 421h5v1h-5zM1099 420h4v1h-4zM1103 419h3v1h-3zM1106 418h2v1h-2zM1108 417h2v1h-2zM1110 416h2v1h-2zM1112 415h4v1h-4zM1116 414h4v1h-4zM1120 413h4v1h-4zM1124 412h3v1h-3zM1127 411h4v1h-4zM1131 410h4v1h-4zM1135 409h4v1h-4zM1139 408h3v1h-3zM1142 407h4v1h-4zM1146 406h3v1h-3zM1149 405h4v1h-4zM1153 404h3v1h-3zM1156 403h4v1h-4zM1160 402h3v1h-3zM1163 401h4v1h-4zM1167 400h2v1h-2zM1169 399h2v1h-2zM1171 398h2v1h-2zM1173 397h2v1h-2zM1175 396h2v1h-2zM1177 395h2v1h-2zM1179 394h1v1h-1zM1180 393h2v1h-2zM1182 392h2v1h-2zM1184 391h2v1h-2zM1186 390h2v1h-2zM1188 389h2v1h-2zM1190 388h2v1h-2zM1192 387h2v1h-2zM1194 386h2v1h-2zM1196 385h2v1h-2zM1198 384h3v1h-3zM1201 383h2v1h-2zM1203 382h2v1h-2zM1205 381h2v1h-2zM1207 380h2v1h-2zM1209 379h2v1h-2zM1211 378h3v1h-3zM1214 377h3v1h-3zM1217 376h3v1h-3zM1220 375h3v1h-3zM1223 374h4v1h-4zM1227 373h3v1h-3zM1230 372h3v1h-3zM1233 371h3v1h-3zM1236 370h3v1h-3zM1239 369h4v1h-4zM1243 368h3v1h-3zM1246 367h4v1h-4zM1250 366h3v1h-3zM1253 365h3v1h-3zM1256 364h4v1h-4zM1260 363h3v1h-3zM1263 362h3v1h-3zM1266 361h3v1h-3zM1269 360h4v1h-4zM1273 359h3v1h-3zM1276 358h3v1h-3zM1279 357h4v1h-4zM1283 356h6v1h-6zM1289 355h4v1h-4zM1293 354h2v1h-2zM1295 353h3v1h-3zM1298 352h2v1h-2zM1300 351h3v1h-3zM1303 350h3v1h-3zM1306 349h3v1h-3zM1309 348h3v1h-3zM1312 347h3v1h-3zM1315 346h3v1h-3zM1318 345h3v1h-3zM1321 344h3v1h-3zM1324 343h3v1h-3zM1327 342h2v1h-2zM1329 341h3v1h-3zM1332 340h3v1h-3zM1335 339h3v1h-3zM1338 338h2v1h-2zM1340 337h3v1h-3zM1343 336h3v1h-3zM1346 335h2v1h-2zM1348 334h2v1h-2zM1350 333h3v1h-3zM1353 332h2v1h-2zM1355 331h2v1h-2zM1357 330h3v1h-3zM1360 329h2v1h-2zM1362 328h2v1h-2zM1364 327h3v1h-3zM1367 326h2v1h-2zM1369 325h2v1h-2zM1371 324h3v1h-3zM1374 323h2v1h-2zM1376 322h2v1h-2zM1378 321h3v1h-3zM1381 320h2v1h-2zM1383 319h2v1h-2zM1385 318h3v1h-3zM1388 317h2v1h-2zM1390 316h3v1h-3zM1393 315h3v1h-3zM1396 314h2v1h-2zM1398 313h3v1h-3zM1401 312h3v1h-3zM1404 311h2v1h-2zM1406 310h3v1h-3zM1409 309h2v1h-2zM1411 308h3v1h-3zM1414 307h2v1h-2zM1416 306h3v1h-3zM1419 305h2v1h-2zM1421 304h2v1h-2zM1423 303h3v1h-3zM1426 302h2v1h-2zM1428 301h3v1h-3zM1431 300h3v1h-3zM1434 299h3v1h-3zM1437 298h3v1h-3zM1440 297h3v1h-3zM1443 296h3v1h-3zM1446 295h3v1h-3zM1449 294h4v1h-4zM1453 293h4v1h-4zM1457 292h4v1h-4zM1461 291h4v1h-4zM1465 290h4v1h-4zM1469 289h6v1h-6zM1475 288h8v1h-8zM1483 287h6v1h-6zM1489 288h6v1h-6zM1495 289h6v1h-6zM1501 290h6v1h-6zM1507 291h6v1h-6zM1513 292h6v1h-6zM1519 293h6v1h-6zM1525 294h6v1h-6zM1531 295h7v1h-7zM1538 296h6v1h-6zM1544 297h6v1h-6zM1550 298h5v1h-5zM1555 299h4v1h-4zM1559 300h4v1h-4zM1563 301h4v1h-4zM1567 302h4v1h-4zM1571 303h4v1h-4zM1575 304h4v1h-4zM1579 305h4v1h-4zM1583 306h3v1h-3zM1586 307h3v1h-3zM1589 308h3v1h-3zM1592 309h2v1h-2zM1594 310h3v1h-3zM1597 311h3v1h-3zM1600 312h3v1h-3zM1603 313h3v1h-3zM1606 314h2v1h-2zM1608 315h3v1h-3zM1611 316h3v1h-3zM1614 317h3v1h-3zM1617 318h2v1h-2zM1619 319h2v1h-2zM1621 320h3v1h-3zM1624 321h2v1h-2zM1626 322h3v1h-3zM1629 323h2v1h-2zM1631 324h2v1h-2zM1633 325h3v1h-3zM1636 326h2v1h-2zM1638 327h3v1h-3zM1641 328h2v1h-2zM1643 329h2v1h-2zM1645 330h3v1h-3zM1648 331h2v1h-2zM1650 332h3v1h-3zM1653 333h2v1h-2zM1655 334h3v1h-3zM1658 335h3v1h-3zM1661 336h2v1h-2zM1663 337h3v1h-3zM1666 338h2v1h-2zM1668 339h2v1h-2z"/>
<path fill="#ff9a00" d="M6 147h3v1h-3zM9 146h4v1h-4zM13 145h5v1h-5zM18 144h5v1h-5zM23 143h5v1h-5zM28 142h7v1h-7zM35 141h8v1h-8zM43 140h5v1h-5zM48 139h2v1h-2zM50 138h2v1h-2zM52 137h2v1h-2zM54 136h3v1h-3zM57 135h5v1h-5zM62 134h4v1h-4zM66 133h4v1h-4zM70 132h4v1h-4zM74 131h4v1h-4zM78 130h4v1h-4zM82 129h5v1h-5zM87 128h8v1h-8zM95 127h7v1h-7zM102 126h4v1h-4zM106 125h4v1h-4zM110 124h4v1h-4zM114 123h3v1h-3zM117 122h3v1h-3zM120 121h3v1h-3zM123 120h3v1h-3zM126 119h5v1h-5zM131 120h4v1h-4zM135 121h4v1h-4zM139 122h3v1h-3zM142 123h4v1h-4zM146 124h4v1h-4zM150 125h4v1h-4zM154 126h4v1h-4zM158 127h4v1h-4zM162 128h6v1h-6zM168 129h6v1h-6zM174 130h6v1h-6zM180 131h6v1h-6zM186 132h12v1h-12zM198 133h10v1h-10zM208 134h6v1h-6zM214 135h6v1h-6zM220 136h7v1h-7zM227 137h8v1h-8zM235 138h16v1h-16zM251 137h5v1h-5zM256 136h4v1h-4zM260 135h4v1h-4zM264 134h4v1h-4zM268 133h4v1h-4zM272 132h5v1h-5zM277 131h5v1h-5zM282 130h6v1h-6zM288 129h7v1h-7zM295 128h5v1h-5zM300 127h3v1h-3zM303 126h3v1h-3zM306 125h3v1h-3zM309 124h2v1h-2zM311 123h1v1h-1zM312 122h1v1h-1zM313 121h2v1h-2zM315 120h1v1h-1zM316 119h1v1h-1zM317 118h1v1h-1zM318 117h2v1h-2zM320 116h2v1h-2zM322 115h2v1h-2zM324 114h3v1h-3zM327 113h2v1h-2zM329 112h2v1h-2zM331 111h2v1h-2zM333 110h3v1h-3zM336 109h4v1h-4zM340 108h4v1h-4zM344 107h4v1h-4zM348 106h4v1h-4zM352 105h5v1h-5zM357 104h6v1h-6zM363 103h5v1h-5zM368 102h10v1h-10zM378 101h9v1h-9zM387 100h4v1h-4zM391 99h4v1h-4zM395 98h4v1h-4zM399 97h4v1h-4zM403 96h19v1h-19zM422 97h6v1h-6zM428 98h11v1h-11zM439 97h11v1h-11zM450 98h6v1h-6zM456 99h6v1h-6zM462 100h6v1h-6zM468 101h6v1h-6zM474 102h5v1h-5zM479 103h4v1h-4zM483 104h13v1h-13zM496 105h35v1h-35zM531 104h12v1h-12zM543 105h5v1h-5zM548 106h2v1h-2zM550 107h1v1h-1zM551 108h1v1h-1zM552 109h2v1h-2zM554 110h1v1h-1zM555 111h2v1h-2zM557 112h2v1h-2zM559 113h2v1h-2zM561 114h2v1h-2zM563 115h2v1h-2zM565 116h2v1h-2zM567 117h2v1h-2zM569 118h2v1h-2zM571 119h2v1h-2zM573 120h1v1h-1zM574 121h2v1h-2zM576 122h2v1h-2zM578 123h2v1h-2zM580 124h1v1h-1zM581 125h1v1h-1zM582 126h1v1h-1zM583 127h1v1h-1zM584 128h2v1h-2zM586 129h1v1h-1zM587 130h1v1h-1zM588 131h1v1h-1zM589 132h1v1h-1zM590 133h1v1h-1zM591 134h1v1h-1zM592 135h2v1h-2zM594 136h1v1h-1zM595 137h1v1h-1zM596 138h1v1h-1zM597 139h1v1h-1zM598 140h1v1h-1zM599 141h1v1h-1zM600 142h1v1h-1zM601 143h2v1h-2zM603 144h1v1h-1zM604 145h1v1h-1zM605 146h1v1h-1zM606 147h1v1h-1zM607 148h1v1h-1zM608 149h1v1h-1zM609 150h2v1h-2zM611 151h1v1h-1zM612 152h1v1h-1zM613 153h1v1h-1zM614 154h1v1h-1zM615 155h2v1h-2zM617 156h1v1h-1zM618 157h1v1h-1zM619 158h2v1h-2zM621 159h1v1h-1zM622 160h1v1h-1zM623 161h2v1h-2zM625 162h2v1h-2zM627 163h2v1h-2zM629 164h2v1h-2zM631 165h2v1h-2zM633 166h3v1h-3zM636 167h2v1h-2zM638 168h2v1h-2zM640 169h1v1h-1zM641 170h1v1h-1zM642 171h1v1h-1zM643 172h1v2h-1zM644 174h1v1h-1zM645 175h1v1h-1zM646 176h1v1h-1zM647 177h1v1h-1zM648 178h1v2h-1zM649 180h1v1h-1zM650 181h1v2h-1zM651 183h1v2h-1zM652 185h1v1h-1zM653 186h1v2h-1zM654 188h1v1h-1zM655 189h1v2h-1zM656 191h1v1h-1zM657 192h1v2h-1zM658 194h1v1h-1zM659 195h1v2h-1zM660 197h1v1h-1zM661 198h1v2h-1zM662 200h1v1h-1zM663 201h1v1h-1zM664 202h1v2h-1zM665 204h1v1h-1zM666 205h1v2h-1zM667 207h1v1h-1zM668 208h1v2h-1zM669 210h1v1h-1zM670 211h1v1h-1zM671 212h1v2h-1zM672 214h1v1h-1zM673 215h1v2h-1zM674 217h1v1h-1zM675 218h1v1h-1zM676 219h1v2h-1zM677 221h1v1h-1zM678 222h1v1h-1zM679 223h1v2h-1zM680 225h1v1h-1zM681 226h1v1h-1zM682 227h1v2h-1zM683 229h1v1h-1zM684 230h1v1h-1zM685 231h1v2h-1zM686 233h1v2h-1zM687 235h1v2h-1zM688 237h1v2h-1zM689 239h1v2h-1zM690 241h1v1h-1zM691 242h1v2h-1zM692 244h1v2h-1zM693 246h1v2h-1zM694 248h1v2h-1zM695 250h1v1h-1zM696 251h1v2h-1zM697 253h1v1h-1zM698 254h1v2h-1zM699 256h1v2h-1zM700 258h1v1h-1zM701 259h1v2h-1zM702 261h1v1h-1zM703 262h1v2h-1zM704 264h1v1h-1zM705 265h1v2h-1zM706 267h1v2h-1zM707 269h1v1h-1zM708 270h1v2h-1zM709 272h1v1h-1zM710 273h1v1h-1zM711 274h2v1h-2zM713 275h1v1h-1zM714 276h1v1h-1zM715 277h1v1h-1zM716 278h1v1h-1zM717 279h2v1h-2zM719 280h1v1h-1zM720 281h1v1h-1zM721 282h1v1h-1zM722 283h1v1h-1zM723 284h1v1h-1zM724 285h1v2h-1zM725 287h1v1h-1zM726 288h1v1h-1zM727 289h1v1h-1zM728 290h1v1h-1zM729 291h1v1h-1zM730 292h1v1h-1zM731 293h1v2h-1zM732 295h1v1h-1zM733 296h1v1h-1zM734 297h1v1h-1zM735 298h1v1h-1zM736 299h1v2h-1zM737 301h1v2h-1zM738 303h1v2h-1zM739 305h1v1h-1zM740 306h1v2h-1zM741 308h1v2h-1zM742 310h1v2h-1zM743 312h1v1h-1zM744 313h1v2h-1zM745 315h1v2h-1zM746 317h1v2h-1zM747 319h1v1h-1zM748 320h1v2h-1zM749 322h1v1h-1zM750 323h1v2h-1zM751 325h1v1h-1zM752 326h1v2h-1zM753 328h1v2h-1zM754 330h1v1h-1zM755 331h1v2h-1zM756 333h1v1h-1zM757 334h1v2h-1zM758 336h1v1h-1zM759 337h1v2h-1zM760 339h1v2h-1zM761 341h1v2h-1zM762 343h1v2h-1zM763 345h1v2h-1zM764 347h1v2h-1zM765 349h1v2h-1zM766 351h1v2h-1zM767 353h1v2h-1zM768 355h1v2h-1zM769 357h1v2h-1zM770 359h1v2h-1zM771 361h1v2h-1zM772 363h1v2h-1zM773 365h1v2h-1zM774 367h1v1h-1zM775 368h1v2h-1zM776 370h1v1h-1zM777 371h1v1h-1zM778 372h1v1h-1zM779 373h1v2h-1zM780 375h1v1h-1zM781 376h1v1h-1zM782 377h1v1h-1zM783 378h1v1h-1zM784 379h1v2h-1zM785 381h1v1h-1zM786 382h1v1h-1zM787 383h1v1h-1zM788 384h1v2h-1zM789 386h1v1h-1zM790 387h1v1h-1zM791 388h1v1h-1zM792 389h1v2h-1zM793 391h1v1h-1zM794 392h1v1h-1zM795 393h1v1h-1zM796 394h1v2h-1zM797 396h1v1h-1zM798 397h1v1h-1zM799 398h1v1h-1zM800 399h1v2h-1zM801 401h1v1h-1zM802 402h1v1h-1zM803 403h1v1h-1zM804 404h1v2h-1zM805 406h1v1h-1zM806 407h1v1h-1zM807 408h1v1h-1zM808 409h1v1h-1zM809 410h1v1h-1zM810 411h1v1h-1zM811 412h1v1h-1zM812 413h1v1h-1zM813 414h1v1h-1zM814 415h1v1h-1zM815 416h1v1h-1zM816 417h1v1h-1zM817 418h2v1h-2zM819 419h2v1h-2zM821 420h1v1h-1zM822 421h2v1h-2zM824 422h1v1h-1zM825 423h2v1h-2zM827 424h2v1h-2zM829 425h1v1h-1zM830 426h2v1h-2zM832 427h2v1h-2zM834 428h2v1h-2zM836 429h2v1h-2zM838 430h2v1h-2zM840 431h2v1h-2zM842 432h2v1h-2zM844 433h2v1h-2zM846 434h1v1h-1zM847 435h1v1h-1zM848 436h1v1h-1zM849 437h1v1h-1zM850 438h1v1h-1zM851 439h1v1h-1zM852 440h1v1h-1zM853 441h2v1h-2zM855 442h1v1h-1zM856 443h1v1h-1zM857 444h1v1h-1zM858 445h1v1h-1zM859 446h1v1h-1zM860 447h1v1h-1zM861 448h1v1h-1zM862 449h1v1h-1zM863 450h2v1h-2zM865 451h1v1h-1zM866 452h1v1h-1zM867 453h2v1h-2zM869 454h1v1h-1zM870 455h1v1h-1zM871 456h2v1h-2zM873 457h1v1h-1zM874 458h1v1h-1zM875 459h2v1h-2zM877 460h1v1h-1zM878 461h1v1h-1zM879 462h2v1h-2zM881 463h1v1h-1zM882 464h2v1h-2zM884 465h1v1h-1zM885 466h2v1h-2zM887 467h1v1h-1zM888 468h2v1h-2zM890 469h2v1h-2zM892 470h2v1h-2zM894 471h2v1h-2zM896 472h2v1h-2zM898 473h2v1h-2zM900 474h2v1h-2zM902 475h13v1h-13zM915 474h3v1h-3zM918 473h2v1h-2zM920 472h3v1h-3zM923 471h2v1h-2zM925 470h3v1h-3zM928 469h4v1h-4zM932 468h3v1h-3zM935 467h2v1h-2zM937 466h2v1h-2zM939 465h2v1h-2zM941 464h9v1h-9zM950 465h5v1h-5zM955 466h4v1h-4zM959 467h4v1h-4zM963 468h4v1h-4zM967 469h3v1h-3zM970 470h4v1h-4zM974 471h6v1h-6zM980 472h18v1h-18zM998 471h6v1h-6zM1004 470h4v1h-4zM1008 469h3v1h-3zM1011 468h2v1h-2zM1013 467h2v1h-2zM1015 466h2v1h-2zM1017 465h1v1h-1zM1018 464h2v1h-2zM1020 463h1v1h-1zM1021 462h1v1h-1zM1022 461h2v1h-2zM1024 460h1v1h-1zM1025 459h1v1h-1zM1026 458h1v1h-1zM1027 457h2v1h-2zM1029 456h1v1h-1zM1030 455h2v1h-2zM1032 454h1v1h-1zM1033 453h2v1h-2zM1035 452h1v1h-1zM1036 451h2v1h-2zM1038 450h1v1h-1zM1039 449h1v1h-1zM1040 448h1v1h-1zM1041 447h1v1h-1zM1042 446h1v1h-1zM1043 445h1v1h-1zM1044 443h1v2h-1zM1045 442h1v1h-1zM1046 441h1v1h-1zM1047 440h1v1h-1zM1048 439h1v1h-1zM1049 438h1v1h-1zM1050 437h1v1h-1zM1051 436h1v1h-1zM1052 435h1v1h-1zM1053 434h1v1h-1zM1054 432h1v2h-1zM1055 431h1v1h-1zM1056 430h1v1h-1zM1057 429h1v1h-1zM1058 428h1v1h-1zM1059 427h1v1h-1zM1060 426h1v1h-1zM1061 424h1v2h-1zM1062 423h1v1h-1zM1063 422h1v1h-1zM1064 421h1v1h-1zM1065 420h1v1h-1zM1066 419h1v1h-1zM1067 418h1v1h-1zM1068 417h1v1h-1zM1069 416h1v1h-1zM1070 415h1v1h-1zM1071 413h1v2h-1zM1072 412h1v1h-1zM1073 411h1v1h-1zM1074 410h1v1h-1zM1075 409h1v1h-1zM1076 408h1v1h-1zM1077 407h1v1h-1zM1078 406h1v1h-1zM1079 405h1v1h-1zM1080 404h1v1h-1zM1081 402h1v2h-1zM1082 401h1v1h-1zM1083 400h1v1h-1zM1084 399h1v1h-1zM1085 398h1v1h-1zM1086 397h1v1h-1zM1087 396h1v1h-1zM1088 394h1v2h-1zM1089 393h1v1h-1zM1090 392h1v1h-1zM1091 391h1v1h-1zM1092 390h1v1h-1zM1093 389h1v1h-1zM1094 388h1v1h-1zM1095 387h1v1h-1zM1096 385h1v2h-1zM1097 384h1v1h-1zM1098 383h1v1h-1zM1099 382h1v1h-1zM1100 381h1v1h-1zM1101 380h1v1h-1zM1102 379h1v1h-1zM1103 377h1v2h-1zM1104 376h1v1h-1zM1105 374h1v2h-1zM1106 372h1v2h-1zM1107 371h1v1h-1zM1108 369h1v2h-1zM1109 368h1v1h-1zM1110 366h1v2h-1zM1111 364h1v2h-1zM1112 363h1v1h-1zM1113 361h1v2h-1zM1114 360h1v1h-1zM1115 358h1v2h-1zM1116 357h1v1h-1zM1117 355h1v2h-1zM1118 353h1v2h-1zM1119 352h1v1h-1zM1120 350h1v2h-1zM1121 349h1v1h-1zM1122 347h1v2h-1zM1123 345h1v2h-1zM1124 344h1v1h-1zM1125 342h1v2h-1zM1126 341h1v1h-1zM1127 339h1v2h-1zM1128 338h1v1h-1zM1129 336h1v2h-1zM1130 335h1v1h-1zM1131 333h1v2h-1zM1132 332h1v1h-1zM1133 330h1v2h-1zM1134 329h1v1h-1zM1135 327h1v2h-1zM1136 326h1v1h-1zM1137 324h1v2h-1zM1138 323h1v1h-1zM1139 321h1v2h-1zM1140 320h1v1h-1zM1141 318h1v2h-1zM1142 317h1v1h-1zM1143 315h1v2h-1zM1144 314h1v1h-1zM1145 313h1v1h-1zM1146 311h1v2h-1zM1147 310h1v1h-1zM1148 308h1v2h-1zM1149 307h1v1h-1zM1150 305h1v2h-1zM1151 304h1v1h-1zM1152 302h1v2h-1zM1153 301h1v1h-1zM1154 300h1v1h-1zM1155 298h1v2h-1zM1156 297h1v1h-1zM1157 296h1v1h-1zM1158 294h1v2h-1zM1159 293h1v1h-1zM1160 292h1v1h-1zM1161 290h1v2h-1zM1162 289h1v1h-1zM1163 288h1v1h-1zM1164 287h1v1h-1zM1165 286h1v1h-1zM1166 285h1v1h-1zM1167 284h1v1h-1zM1168 283h1v1h-1zM1169 281h1v2h-1zM1170 280h1v1h-1zM1171 279h1v1h-1zM1172 278h1v1h-1zM1173 277h1v1h-1zM1174 276h1v1h-1zM1175 275h1v1h-1zM1176 274h2v1h-2zM1178 273h1v1h-1zM1179 272h2v1h-2zM1181 271h1v1h-1zM1182 270h1v1h-1zM1183 269h2v1h-2zM1185 268h1v1h-1zM1186 267h2v1h-2zM1188 266h3v1h-3zM1191 265h4v1h-4zM1195 264h4v1h-4zM1199 263h8v1h-8zM1207 262h9v1h-9zM1216 263h6v1h-6zM1222 264h9v1h-9zM1231 265h14v1h-14zM1245 266h9v1h-9zM1254 267h5v1h-5zM1259 268h3v1h-3zM1262 269h2v1h-2zM1264 270h2v1h-2zM1266 271h1v1h-1zM1267 272h2v1h-2zM1269 273h1v1h-1zM1270 274h2v1h-2zM1272 275h2v1h-2zM1274 276h1v1h-1zM1275 277h2v1h-2zM1277 278h1v1h-1zM1278 279h2v1h-2zM1280 280h1v1h-1zM1281 281h2v1h-2zM1283 282h2v1h-2zM1285 283h2v1h-2zM1287 284h2v1h-2zM1289 285h2v1h-2zM1291 286h1v1h-1zM1292 287h2v1h-2zM1294 288h1v1h-1zM1295 289h2v1h-2zM1297 290h1v1h-1zM1298 291h1v1h-1zM1299 292h2v1h-2zM1301 293h1v1h-1zM1302 294h2v1h-2zM1304 295h1v1h-1zM1305 296h1v1h-1zM1306 297h2v1h-2zM1308 298h1v1h-1zM1309 299h1v1h-1zM1310 300h2v1h-2zM1312 301h1v1h-1zM1313 302h2v1h-2zM1315 303h1v1h-1zM1316 304h2v1h-2zM1318 305h1v1h-1zM1319 306h1v1h-1zM1320 307h2v1h-2zM1322 308h2v1h-2zM1324 309h2v1h-2zM1326 310h2v1h-2zM1328 311h2v1h-2zM1330 312h2v1h-2zM1332 313h3v1h-3zM1335 314h2v1h-2zM1337 315h2v1h-2zM1339 316h2v1h-2zM1341 317h10v1h-10zM1351 318h9v1h-9zM1360 317h4v1h-4zM1364 316h4v1h-4zM1368 315h6v1h-6zM1374 314h8v1h-8zM1382 313h8v1h-8zM1390 312h7v1h-7zM1397 311h7v1h-7zM1404 310h9v1h-9zM1413 309h11v1h-11zM1424 308h7v1h-7zM1431 307h2v1h-2zM1433 306h3v1h-3zM1436 305h2v1h-2zM1438 304h3v1h-3zM1441 303h4v1h-4zM1445 302h4v1h-4zM1449 301h3v1h-3zM1452 300h4v1h-4zM1456 299h3v1h-3zM1459 298h4v1h-4zM1463 297h3v1h-3zM1466 296h4v1h-4zM1470 295h3v1h-3zM1473 294h3v1h-3zM1476 293h3v1h-3zM1479 292h3v1h-3zM1482 291h3v1h-3zM1485 290h4v1h-4zM1489 291h4v1h-4zM1493 292h4v1h-4zM1497 293h4v1h-4zM1501 294h3v1h-3zM1504 295h3v1h-3zM1507 296h3v1h-3zM1510 297h2v1h-2zM1512 298h2v1h-2zM1514 299h2v1h-2zM1516 300h2v1h-2zM1518 301h2v1h-2zM1520 302h2v1h-2zM1522 303h2v1h-2zM1524 304h2v1h-2zM1526 305h2v1h-2zM1528 306h2v1h-2zM1530 307h3v1h-3zM1533 308h2v1h-2zM1535 309h2v1h-2zM1537 310h3v1h-3zM1540 311h4v1h-4zM1544 312h34v1h-34zM1578 313h4v1h-4zM1582 314h2v1h-2zM1584 315h2v1h-2zM1586 316h1v1h-1zM1587 317h1v1h-1zM1588 318h2v1h-2zM1590 319h2v1h-2zM1592 320h3v1h-3zM1595 321h2v1h-2zM1597 322h2v1h-2zM1599 323h2v1h-2zM1601 324h2v1h-2zM1603 325h1v1h-1zM1604 326h2v1h-2zM1606 327h1v1h-1zM1607 328h1v1h-1zM1608 329h1v1h-1zM1609 330h2v1h-2zM1611 331h1v1h-1zM1612 332h1v1h-1zM1613 333h1v1h-1zM1614 334h1v1h-1zM1615 335h1v1h-1zM1616 336h1v2h-1zM1617 338h1v1h-1zM1618 339h1v1h-1zM1619 340h1v2h-1zM1620 342h1v1h-1zM1621 343h1v1h-1zM1622 344h1v1h-1zM1623 345h1v1h-1zM1624 346h1v1h-1zM1625 347h1v2h-1zM1626 349h1v1h-1zM1627 350h1v1h-1zM1628 351h1v1h-1zM1629 352h1v1h-1zM1630 353h1v1h-1zM1631 354h1v2h-1zM1632 356h1v1h-1zM1633 357h1v1h-1zM1634 358h1v1h-1zM1635 359h1v2h-1zM1636 361h1v1h-1zM1637 362h1v1h-1zM1638 363h1v1h-1zM1639 364h1v2h-1zM1640 366h1v1h-1zM1641 367h1v1h-1zM1642 368h1v1h-1zM1643 369h1v2h-1zM1644 371h1v1h-1zM1645 372h1v1h-1zM1646 373h1v2h-1zM1647 375h1v1h-1zM1648 376h1v1h-1zM1649 377h1v2h-1zM1650 379h1v1h-1zM1651 380h1v1h-1zM1652 381h1v2h-1zM1653 383h1v1h-1zM1654 384h1v1h-1zM1655 385h2v1h-2zM1657 386h2v1h-2zM1659 387h2v1h-2zM1661 388h2v1h-2zM1663 389h1v1h-1zM1664 390h2v1h-2zM1666 391h2v1h-2zM1668 392h2v1h-2zM1670 393h1v1h-1z"/>
<rect x="6" y="73" width="1686" height="2" fill="#ff0000"/>
<rect x="6" y="202" width="1686" height="2" fill="#ff0000"/>
<rect x="6" y="331" width="1686" height="2" fill="#ff0000"/>
<rect x="6" y="461" width="1686" height="2" fill="#32cd32"/>
</g>
<g shape-rendering="crispEdges">
<rect x="5" y="329" width="6" height="6" fill="#ff0000"/><rect x="7" y="331" width="2" height="2" fill="#fff"/>
<rect x="1685" y="329" width="6" height="6" fill="#ff0000"/><rect x="1687" y="331" width="2" height="2" fill="#fff"/>
<rect x="5" y="459" width="6" height="6" fill="#32cd32"/><rect x="7" y="461" width="2" height="2" fill="#fff"/>
<rect x="1685" y="459" width="6" height="6" fill="#32cd32"/><rect x="1687" y="461" width="2" height="2" fill="#fff"/>
</g>
<g clip-path="url(#cd)" shape-rendering="crispEdges">
<rect x="6" y="624" width="1" height="11" fill="#c0c0c0"/><rect x="14" y="624" width="1" height="11" fill="#c0c0c0"/><rect x="22" y="623" width="1" height="12" fill="#c0c0c0"/><rect x="30" y="622" width="1" height="13" fill="#c0c0c0"/><rect x="38" y="622" width="1" height="13" fill="#c0c0c0"/><rect x="46" y="621" width="1" height="14" fill="#c0c0c0"/><rect x="54" y="621" width="1" height="14" fill="#c0c0c0"/><rect x="62" y="621" width="1" height="14" fill="#c0c0c0"/><rect x="70" y="622" width="1" height="13" fill="#c0c0c0"/><rect x="78" y="622" width="1" height="13" fill="#c0c0c0"/><rect x="86" y="623" width="1" height="12" fill="#c0c0c0"/><rect x="94" y="624" width="1" height="11" fill="#c0c0c0"/><rect x="102" y="625" width="1" height="10" fill="#c0c0c0"/><rect x="110" y="626" width="1" height="9" fill="#c0c0c0"/><rect x="118" y="626" width="1" height="9" fill="#c0c0c0"/><rect x="126" y="627" width="1" height="8" fill="#c0c0c0"/><rect x="134" y="628" width="1" height="7" fill="#c0c0c0"/><rect x="142" y="632" width="1" height="3" fill="#c0c0c0"/><rect x="150" y="634" width="1" height="4" fill="#c0c0c0"/><rect x="158" y="634" width="1" height="4" fill="#c0c0c0"/><rect x="166" y="634" width="1" height="4" fill="#c0c0c0"/><rect x="174" y="634" width="1" height="4" fill="#c0c0c0"/><rect x="182" y="634" width="1" height="4" fill="#c0c0c0"/><rect x="190" y="634" width="1" height="3" fill="#c0c0c0"/><rect x="198" y="634" width="1" height="2" fill="#c0c0c0"/><rect x="206" y="634" width="1" height="1" fill="#c0c0c0"/><rect x="214" y="634" width="1" height="1" fill="#c0c0c0"/><rect x="222" y="634" width="1" height="1" fill="#c0c0c0"/><rect x="230" y="634" width="1" height="1" fill="#c0c0c0"/><rect x="238" y="634" width="1" height="1" fill="#c0c0c0"/><rect x="246" y="634" width="1" height="1" fill="#c0c0c0"/><rect x="254" y="631" width="1" height="4" fill="#c0c0c0"/><rect x="262" y="628" width="1" height="7" fill="#c0c0c0"/><rect x="270" y="625" width="1" height="10" fill="#c0c0c0"/><rect x="278" y="623" width="1" height="12" fill="#c0c0c0"/><rect x="286" y="621" width="1" height="14" fill="#c0c0c0"/><rect x="294" y="622" width="1" height="13" fill="#c0c0c0"/><rect x="302" y="621" width="1" height="14" fill="#c0c0c0"/><rect x="310" y="620" width="1" height="15" fill="#c0c0c0"/><rect x="318" y="620" width="1" height="15" fill="#c0c0c0"/><rect x="326" y="620" width="1" height="15" fill="#c0c0c0"/><rect x="334" y="619" width="1" height="16" fill="#c0c0c0"/><rect x="342" y="620" width="1" height="15" fill="#c0c0c0"/><rect x="350" y="623" width="1" height="12" fill="#c0c0c0"/><rect x="358" y="625" width="1" height="10" fill="#c0c0c0"/><rect x="366" y="626" width="1" height="9" fill="#c0c0c0"/><rect x="374" y="628" width="1" height="7" fill="#c0c0c0"/><rect x="382" y="630" width="1" height="5" fill="#c0c0c0"/><rect x="390" y="630" width="1" height="5" fill="#c0c0c0"/><rect x="398" y="631" width="1" height="4" fill="#c0c0c0"/><rect x="406" y="632" width="1" height="3" fill="#c0c0c0"/><rect x="414" y="633" width="1" height="2" fill="#c0c0c0"/><rect x="422" y="633" width="1" height="2" fill="#c0c0c0"/><rect x="430" y="632" width="1" height="3" fill="#c0c0c0"/><rect x="438" y="630" width="1" height="5" fill="#c0c0c0"/><rect x="446" y="629" width="1" height="6" fill="#c0c0c0"/><rect x="454" y="630" width="1" height="5" fill="#c0c0c0"/><rect x="462" y="632" width="1" height="3" fill="#c0c0c0"/><rect x="470" y="633" width="1" height="2" fill="#c0c0c0"/><rect x="478" y="633" width="1" height="2" fill="#c0c0c0"/><rect x="486" y="633" width="1" height="2" fill="#c0c0c0"/><rect x="494" y="633" width="1" height="2" fill="#c0c0c0"/><rect x="502" y="634" width="1" height="1" fill="#c0c0c0"/><rect x="510" y="634" width="1" height="1" fill="#c0c0c0"/><rect x="518" y="634" width="1" height="1" fill="#c0c0c0"/><rect x="526" y="634" width="1" height="1" fill="#c0c0c0"/><rect x="534" y="634" width="1" height="1" fill="#c0c0c0"/><rect x="542" y="634" width="1" height="1" fill="#c0c0c0"/><rect x="550" y="634" width="1" height="6" fill="#c0c0c0"/><rect x="558" y="634" width="1" height="13" fill="#c0c0c0"/><rect x="566" y="634" width="1" height="16" fill="#c0c0c0"/><rect x="574" y="634" width="1" height="20" fill="#c0c0c0"/><rect x="582" y="634" width="1" height="24" fill="#c0c0c0"/><rect x="590" y="634" width="1" height="31" fill="#c0c0c0"/><rect x="598" y="634" width="1" height="34" fill="#c0c0c0"/><rect x="606" y="634" width="1" height="34" fill="#c0c0c0"/><rect x="614" y="634" width="1" height="36" fill="#c0c0c0"/><rect x="622" y="634" width="1" height="37" fill="#c0c0c0"/><rect x="630" y="634" width="1" height="34" fill="#c0c0c0"/><rect x="638" y="634" width="1" height="32" fill="#c0c0c0"/><rect x="646" y="634" width="1" height="37" fill="#c0c0c0"/><rect x="654" y="634" width="1" height="42" fill="#c0c0c0"/><rect x="662" y="634" width="1" height="48" fill="#c0c0c0"/><rect x="670" y="634" width="1" height="55" fill="#c0c0c0"/><rect x="678" y="634" width="1" height="57" fill="#c0c0c0"/><rect x="686" y="634" width="1" height="59" fill="#c0c0c0"/><rect x="694" y="634" width="1" height="59" fill="#c0c0c0"/><rect x="702" y="634" width="1" height="59" fill="#c0c0c0"/><rect x="710" y="634" width="1" height="58" fill="#c0c0c0"/><rect x="718" y="634" width="1" height="56" fill="#c0c0c0"/><rect x="726" y="634" width="1" height="56" fill="#c0c0c0"/><rect x="734" y="634" width="1" height="57" fill="#c0c0c0"/><rect x="742" y="634" width="1" height="63" fill="#c0c0c0"/><rect x="750" y="634" width="1" height="72" fill="#c0c0c0"/><rect x="758" y="634" width="1" height="77" fill="#c0c0c0"/><rect x="766" y="634" width="1" height="81" fill="#c0c0c0"/><rect x="774" y="634" width="1" height="84" fill="#c0c0c0"/><rect x="782" y="634" width="1" height="80" fill="#c0c0c0"/><rect x="790" y="634" width="1" height="76" fill="#c0c0c0"/><rect x="798" y="634" width="1" height="68" fill="#c0c0c0"/><rect x="806" y="634" width="1" height="63" fill="#c0c0c0"/><rect x="814" y="634" width="1" height="59" fill="#c0c0c0"/><rect x="822" y="634" width="1" height="54" fill="#c0c0c0"/><rect x="830" y="634" width="1" height="51" fill="#c0c0c0"/><rect x="838" y="634" width="1" height="49" fill="#c0c0c0"/><rect x="846" y="634" width="1" height="45" fill="#c0c0c0"/><rect x="854" y="634" width="1" height="44" fill="#c0c0c0"/><rect x="862" y="634" width="1" height="44" fill="#c0c0c0"/><rect x="870" y="634" width="1" height="42" fill="#c0c0c0"/><rect x="878" y="634" width="1" height="42" fill="#c0c0c0"/><rect x="886" y="634" width="1" height="40" fill="#c0c0c0"/><rect x="894" y="634" width="1" height="36" fill="#c0c0c0"/><rect x="902" y="634" width="1" height="33" fill="#c0c0c0"/><rect x="910" y="634" width="1" height="31" fill="#c0c0c0"/><rect x="918" y="634" width="1" height="29" fill="#c0c0c0"/><rect x="926" y="634" width="1" height="26" fill="#c0c0c0"/><rect x="934" y="634" width="1" height="24" fill="#c0c0c0"/><rect x="942" y="634" width="1" height="23" fill="#c0c0c0"/><rect x="950" y="634" width="1" height="23" fill="#c0c0c0"/><rect x="958" y="634" width="1" height="21" fill="#c0c0c0"/><rect x="966" y="634" width="1" height="20" fill="#c0c0c0"/><rect x="974" y="634" width="1" height="19" fill="#c0c0c0"/><rect x="982" y="634" width="1" height="19" fill="#c0c0c0"/><rect x="990" y="634" width="1" height="15" fill="#c0c0c0"/><rect x="998" y="634" width="1" height="11" fill="#c0c0c0"/><rect x="1006" y="634" width="1" height="6" fill="#c0c0c0"/><rect x="1014" y="634" width="1" height="1" fill="#c0c0c0"/><rect x="1022" y="629" width="1" height="6" fill="#c0c0c0"/><rect x="1030" y="623" width="1" height="12" fill="#c0c0c0"/><rect x="1038" y="618" width="1" height="17" fill="#c0c0c0"/><rect x="1046" y="611" width="1" height="24" fill="#c0c0c0"/><rect x="1054" y="604" width="1" height="31" fill="#c0c0c0"/><rect x="1062" y="598" width="1" height="37" fill="#c0c0c0"/><rect x="1070" y="597" width="1" height="38" fill="#c0c0c0"/><rect x="1078" y="596" width="1" height="39" fill="#c0c0c0"/><rect x="1086" y="594" width="1" height="41" fill="#c0c0c0"/><rect x="1094" y="589" width="1" height="46" fill="#c0c0c0"/><rect x="1102" y="585" width="1" height="50" fill="#c0c0c0"/><rect x="1110" y="582" width="1" height="53" fill="#c0c0c0"/><rect x="1118" y="578" width="1" height="57" fill="#c0c0c0"/><rect x="1126" y="577" width="1" height="58" fill="#c0c0c0"/><rect x="1134" y="578" width="1" height="57" fill="#c0c0c0"/><rect x="1142" y="577" width="1" height="58" fill="#c0c0c0"/><rect x="1150" y="579" width="1" height="56" fill="#c0c0c0"/><rect x="1158" y="581" width="1" height="54" fill="#c0c0c0"/><rect x="1166" y="583" width="1" height="52" fill="#c0c0c0"/><rect x="1174" y="584" width="1" height="51" fill="#c0c0c0"/><rect x="1182" y="590" width="1" height="45" fill="#c0c0c0"/><rect x="1190" y="595" width="1" height="40" fill="#c0c0c0"/><rect x="1198" y="605" width="1" height="30" fill="#c0c0c0"/><rect x="1206" y="611" width="1" height="24" fill="#c0c0c0"/><rect x="1214" y="615" width="1" height="20" fill="#c0c0c0"/><rect x="1222" y="620" width="1" height="15" fill="#c0c0c0"/><rect x="1230" y="624" width="1" height="11" fill="#c0c0c0"/><rect x="1238" y="628" width="1" height="7" fill="#c0c0c0"/><rect x="1246" y="631" width="1" height="4" fill="#c0c0c0"/><rect x="1254" y="633" width="1" height="2" fill="#c0c0c0"/><rect x="1262" y="634" width="1" height="1" fill="#c0c0c0"/><rect x="1270" y="634" width="1" height="1" fill="#c0c0c0"/><rect x="1278" y="634" width="1" height="3" fill="#c0c0c0"/><rect x="1286" y="634" width="1" height="3" fill="#c0c0c0"/><rect x="1294" y="634" width="1" height="3" fill="#c0c0c0"/><rect x="1302" y="634" width="1" height="4" fill="#c0c0c0"/><rect x="1310" y="634" width="1" height="6" fill="#c0c0c0"/><rect x="1318" y="634" width="1" height="7" fill="#c0c0c0"/><rect x="1326" y="634" width="1" height="6" fill="#c0c0c0"/><rect x="1334" y="634" width="1" height="4" fill="#c0c0c0"/><rect x="1342" y="634" width="1" height="3" fill="#c0c0c0"/><rect x="1350" y="634" width="1" height="1" fill="#c0c0c0"/><rect x="1358" y="633" width="1" height="2" fill="#c0c0c0"/><rect x="1366" y="630" width="1" height="5" fill="#c0c0c0"/><rect x="1374" y="628" width="1" height="7" fill="#c0c0c0"/><rect x="1382" y="629" width="1" height="6" fill="#c0c0c0"/><rect x="1390" y="629" width="1" height="6" fill="#c0c0c0"/><rect x="1398" y="629" width="1" height="6" fill="#c0c0c0"/><rect x="1406" y="629" width="1" height="6" fill="#c0c0c0"/><rect x="1414" y="630" width="1" height="5" fill="#c0c0c0"/><rect x="1422" y="630" width="1" height="5" fill="#c0c0c0"/><rect x="1430" y="632" width="1" height="3" fill="#c0c0c0"/><rect x="1438" y="630" width="1" height="5" fill="#c0c0c0"/><rect x="1446" y="628" width="1" height="7" fill="#c0c0c0"/><rect x="1454" y="626" width="1" height="9" fill="#c0c0c0"/><rect x="1462" y="625" width="1" height="10" fill="#c0c0c0"/><rect x="1470" y="625" width="1" height="10" fill="#c0c0c0"/><rect x="1478" y="625" width="1" height="10" fill="#c0c0c0"/><rect x="1486" y="626" width="1" height="9" fill="#c0c0c0"/><rect x="1494" y="634" width="1" height="1" fill="#c0c0c0"/><rect x="1502" y="634" width="1" height="5" fill="#c0c0c0"/><rect x="1510" y="634" width="1" height="8" fill="#c0c0c0"/><rect x="1518" y="634" width="1" height="12" fill="#c0c0c0"/><rect x="1526" y="634" width="1" height="15" fill="#c0c0c0"/><rect x="1534" y="634" width="1" height="16" fill="#c0c0c0"/><rect x="1542" y="634" width="1" height="12" fill="#c0c0c0"/><rect x="1550" y="634" width="1" height="9" fill="#c0c0c0"/><rect x="1558" y="634" width="1" height="6" fill="#c0c0c0"/><rect x="1566" y="634" width="1" height="4" fill="#c0c0c0"/><rect x="1574" y="634" width="1" height="1" fill="#c0c0c0"/><rect x="1582" y="634" width="1" height="3" fill="#c0c0c0"/><rect x="1590" y="634" width="1" height="11" fill="#c0c0c0"/><rect x="1598" y="634" width="1" height="15" fill="#c0c0c0"/><rect x="1606" y="634" width="1" height="18" fill="#c0c0c0"/><rect x="1614" y="634" width="1" height="22" fill="#c0c0c0"/><rect x="1622" y="634" width="1" height="28" fill="#c0c0c0"/><rect x="1630" y="634" width="1" height="35" fill="#c0c0c0"/><rect x="1638" y="634" width="1" height="39" fill="#c0c0c0"/><rect x="1646" y="634" width="1" height="44" fill="#c0c0c0"/><rect x="1654" y="634" width="1" height="46" fill="#c0c0c0"/><rect x="1662" y="634" width="1" height="46" fill="#c0c0c0"/><rect x="1670" y="634" width="1" height="44" fill="#c0c0c0"/>
<path fill="#ff0000" d="M6 628h3v1h-3zM12 627h3v1h-3zM18 626h3v1h-3zM24 625h3v1h-3zM30 625h2v1h-2zM32 624h1v1h-1zM36 624h3v1h-3zM42 623h3v1h-3zM48 623h2v1h-2zM50 622h1v1h-1zM54 622h3v1h-3zM60 622h3v1h-3zM66 622h3v1h-3zM72 622h3v1h-3zM78 622h3v1h-3zM84 622h3v1h-3zM90 622h3v1h-3zM96 622h3v1h-3zM102 623h3v1h-3zM108 623h3v1h-3zM114 623h3v1h-3zM120 624h3v1h-3zM126 624h3v1h-3zM132 625h3v1h-3zM138 625h1v1h-1zM139 626h2v1h-2zM144 627h3v1h-3zM150 628h2v1h-2zM152 629h1v1h-1zM156 629h2v1h-2zM158 630h1v1h-1zM162 630h3v1h-3zM168 631h3v1h-3zM174 632h3v1h-3zM180 633h3v1h-3zM186 634h3v1h-3zM192 635h3v1h-3zM198 636h3v1h-3zM204 637h3v1h-3zM210 637h1v1h-1zM211 638h2v1h-2zM216 638h3v1h-3zM222 638h3v1h-3zM228 637h3v1h-3zM234 637h3v1h-3zM240 636h3v1h-3zM246 636h3v1h-3zM252 635h3v1h-3zM258 634h3v1h-3zM264 633h3v1h-3zM270 632h3v1h-3zM276 631h3v1h-3zM282 630h2v1h-2zM284 629h1v1h-1zM288 629h3v1h-3zM294 628h3v1h-3zM300 627h3v1h-3zM306 626h2v1h-2zM308 625h1v1h-1zM312 623h3v1h-3zM318 622h3v1h-3zM324 621h3v1h-3zM330 620h3v1h-3zM336 620h3v1h-3zM342 620h3v1h-3zM348 620h3v1h-3zM354 620h3v1h-3zM360 620h3v1h-3zM366 620h2v1h-2zM368 621h1v1h-1zM372 621h3v1h-3zM378 621h1v1h-1zM379 622h2v1h-2zM384 623h2v1h-2zM386 624h1v1h-1zM390 624h1v1h-1zM391 625h2v1h-2zM396 625h3v1h-3zM402 626h3v1h-3zM408 627h3v1h-3zM414 628h3v1h-3zM420 629h3v1h-3zM426 629h3v1h-3zM432 630h3v1h-3zM438 630h3v1h-3zM444 630h3v1h-3zM450 631h3v1h-3zM456 631h3v1h-3zM462 631h3v1h-3zM468 631h3v1h-3zM474 632h3v1h-3zM480 632h3v1h-3zM486 632h3v1h-3zM492 632h3v1h-3zM498 632h3v1h-3zM504 632h3v1h-3zM510 632h3v1h-3zM516 632h3v1h-3zM522 632h3v1h-3zM528 632h3v1h-3zM534 632h3v1h-3zM540 632h3v1h-3zM546 632h1v1h-1zM547 633h2v1h-2zM552 634h3v1h-3zM558 635h1v1h-1zM559 636h2v1h-2zM564 637h3v1h-3zM570 638h1v1h-1zM571 639h2v1h-2zM576 640h3v1h-3zM582 642h2v1h-2zM584 643h1v1h-1zM588 645h2v1h-2zM590 646h1v1h-1zM594 648h1v1h-1zM595 649h2v1h-2zM600 651h1v1h-1zM601 652h2v1h-2zM606 654h1v1h-1zM607 655h2v1h-2zM612 657h2v1h-2zM614 658h1v1h-1zM618 659h1v1h-1zM619 660h2v1h-2zM624 661h1v1h-1zM625 662h2v1h-2zM630 663h1v1h-1zM631 664h2v1h-2zM636 665h3v1h-3zM642 666h3v1h-3zM648 667h3v1h-3zM654 669h3v1h-3zM660 670h2v1h-2zM662 671h1v1h-1zM666 672h3v1h-3zM672 674h3v1h-3zM678 676h2v1h-2zM680 677h1v1h-1zM684 678h1v1h-1zM685 679h2v1h-2zM690 680h1v1h-1zM691 681h2v1h-2zM696 682h3v1h-3zM702 683h1v1h-1zM703 684h2v1h-2zM708 686h1v1h-1zM709 687h1v1h-1zM710 688h1v1h-1zM714 689h3v1h-3zM720 690h3v1h-3zM726 691h3v1h-3zM732 691h1v1h-1zM733 692h2v1h-2zM738 692h3v1h-3zM744 693h3v1h-3zM750 694h3v1h-3zM756 696h3v1h-3zM762 697h1v1h-1zM763 698h2v1h-2zM768 699h3v1h-3zM774 700h1v1h-1zM775 701h2v1h-2zM780 704h2v1h-2zM782 705h1v1h-1zM786 705h2v1h-2zM788 706h1v1h-1zM792 706h3v1h-3zM798 707h3v1h-3zM804 708h3v1h-3zM810 707h3v1h-3zM816 707h1v1h-1zM817 706h2v1h-2zM822 705h3v1h-3zM828 704h1v1h-1zM829 703h2v1h-2zM834 702h1v1h-1zM835 701h2v1h-2zM840 699h1v1h-1zM841 698h2v1h-2zM846 696h1v1h-1zM847 695h2v1h-2zM852 693h1v1h-1zM853 692h1v1h-1zM854 691h1v1h-1zM858 689h2v1h-2zM860 688h1v1h-1zM864 686h2v1h-2zM866 685h1v1h-1zM870 684h3v1h-3zM876 683h1v1h-1zM877 682h2v1h-2zM882 681h3v1h-3zM888 680h1v1h-1zM889 679h2v1h-2zM894 678h2v1h-2zM896 677h1v1h-1zM900 676h3v1h-3zM906 675h2v1h-2zM908 674h1v1h-1zM912 673h3v1h-3zM918 672h2v1h-2zM920 671h1v1h-1zM924 670h3v1h-3zM930 669h3v1h-3zM936 668h3v1h-3zM942 667h2v1h-2zM944 666h1v1h-1zM948 665h1v1h-1zM949 664h2v1h-2zM954 662h3v1h-3zM960 661h3v1h-3zM966 660h3v1h-3zM972 659h3v1h-3zM978 658h1v1h-1zM979 657h2v1h-2zM984 657h1v1h-1zM985 656h2v1h-2zM990 656h3v1h-3zM996 655h3v1h-3zM1002 654h1v1h-1zM1003 653h2v1h-2zM1008 651h3v1h-3zM1014 649h2v1h-2zM1016 648h1v1h-1zM1020 647h1v1h-1zM1021 646h2v1h-2zM1026 644h3v1h-3zM1032 642h1v1h-1zM1033 641h2v1h-2zM1038 639h1v1h-1zM1039 638h2v1h-2zM1044 635h2v1h-2zM1046 634h1v1h-1zM1050 631h1v1h-1zM1051 630h2v1h-2zM1056 628h1v1h-1zM1057 627h1v1h-1zM1058 626h1v1h-1zM1062 623h1v1h-1zM1063 622h1v1h-1zM1064 621h1v1h-1zM1068 618h1v1h-1zM1069 617h2v1h-2zM1074 614h2v1h-2zM1076 613h1v1h-1zM1080 611h2v1h-2zM1082 610h1v1h-1zM1086 608h2v1h-2zM1088 607h1v1h-1zM1092 605h1v1h-1zM1093 604h1v1h-1zM1094 603h1v1h-1zM1098 601h1v1h-1zM1099 600h2v1h-2zM1104 597h2v1h-2zM1106 596h1v1h-1zM1110 594h3v1h-3zM1116 592h2v1h-2zM1118 591h1v1h-1zM1122 590h3v1h-3zM1128 588h3v1h-3zM1134 586h1v1h-1zM1135 585h2v1h-2zM1140 584h2v1h-2zM1142 583h1v1h-1zM1146 582h3v1h-3zM1152 581h3v1h-3zM1158 580h3v1h-3zM1164 580h1v1h-1zM1165 579h2v1h-2zM1170 579h3v1h-3zM1176 579h2v1h-2zM1178 580h1v1h-1zM1182 580h3v1h-3zM1188 581h2v1h-2zM1190 582h1v1h-1zM1194 583h2v1h-2zM1196 584h1v1h-1zM1200 585h1v1h-1zM1201 586h2v1h-2zM1206 588h2v1h-2zM1208 589h1v1h-1zM1212 591h1v1h-1zM1213 592h2v1h-2zM1218 595h2v1h-2zM1220 596h1v1h-1zM1224 599h2v1h-2zM1226 600h1v1h-1zM1230 603h2v1h-2zM1232 604h1v1h-1zM1236 606h1v1h-1zM1237 607h2v1h-2zM1242 609h1v1h-1zM1243 610h2v1h-2zM1248 613h2v1h-2zM1250 614h1v1h-1zM1254 617h2v1h-2zM1256 618h1v1h-1zM1260 620h1v1h-1zM1261 621h2v1h-2zM1266 623h1v1h-1zM1267 624h2v1h-2zM1272 626h3v1h-3zM1278 627h3v1h-3zM1284 628h1v1h-1zM1285 629h2v1h-2zM1290 630h2v1h-2zM1292 631h1v1h-1zM1296 632h2v1h-2zM1298 633h1v1h-1zM1302 634h3v1h-3zM1308 635h2v1h-2zM1310 636h1v1h-1zM1314 636h1v1h-1zM1315 637h2v1h-2zM1320 637h1v1h-1zM1321 638h2v1h-2zM1326 638h3v1h-3zM1332 639h3v1h-3zM1338 640h3v1h-3zM1344 640h2v1h-2zM1346 639h1v1h-1zM1350 639h3v1h-3zM1356 638h3v1h-3zM1362 637h3v1h-3zM1368 636h3v1h-3zM1374 636h1v1h-1zM1375 635h2v1h-2zM1380 635h3v1h-3zM1386 634h3v1h-3zM1392 633h3v1h-3zM1398 632h3v1h-3zM1404 631h3v1h-3zM1410 630h2v1h-2zM1412 629h1v1h-1zM1416 629h3v1h-3zM1422 629h3v1h-3zM1428 629h3v1h-3zM1434 629h3v1h-3zM1440 629h3v1h-3zM1446 629h3v1h-3zM1452 628h3v1h-3zM1458 628h3v1h-3zM1464 628h1v1h-1zM1465 627h2v1h-2zM1470 627h3v1h-3zM1476 627h3v1h-3zM1482 627h3v1h-3zM1488 627h3v1h-3zM1494 627h3v1h-3zM1500 628h3v1h-3zM1506 629h3v1h-3zM1512 630h2v1h-2zM1514 631h1v1h-1zM1518 632h2v1h-2zM1520 633h1v1h-1zM1524 635h2v1h-2zM1526 636h1v1h-1zM1530 637h3v1h-3zM1536 638h3v1h-3zM1542 639h1v1h-1zM1543 640h2v1h-2zM1548 641h1v1h-1zM1549 642h2v1h-2zM1554 643h3v1h-3zM1560 644h3v1h-3zM1566 644h3v1h-3zM1572 644h3v1h-3zM1578 643h3v1h-3zM1584 643h3v1h-3zM1590 643h3v1h-3zM1596 643h3v1h-3zM1602 643h3v1h-3zM1608 643h1v1h-1zM1609 644h2v1h-2zM1614 644h3v1h-3zM1620 645h2v1h-2zM1622 646h1v1h-1zM1626 647h1v1h-1zM1627 648h2v1h-2zM1632 650h1v1h-1zM1633 651h2v1h-2zM1638 653h1v1h-1zM1639 654h2v1h-2zM1644 656h1v1h-1zM1645 657h2v1h-2zM1650 660h1v1h-1zM1651 661h1v1h-1zM1652 662h1v1h-1zM1656 664h1v1h-1zM1657 665h2v1h-2zM1662 667h1v1h-1zM1663 668h2v1h-2zM1668 670h1v1h-1zM1669 671h2v1h-2z"/>
</g>
<g clip-path="url(#cr)" shape-rendering="crispEdges">
<path fill="#c0c0c0" d="M6 773h3v1h-3zM12 773h3v1h-3zM18 773h3v1h-3zM24 773h3v1h-3zM30 773h3v1h-3zM36 773h3v1h-3zM42 773h3v1h-3zM48 773h3v1h-3zM54 773h3v1h-3zM60 773h3v1h-3zM66 773h3v1h-3zM72 773h3v1h-3zM78 773h3v1h-3zM84 773h3v1h-3zM90 773h3v1h-3zM96 773h3v1h-3zM102 773h3v1h-3zM108 773h3v1h-3zM114 773h3v1h-3zM120 773h3v1h-3zM126 773h3v1h-3zM132 773h3v1h-3zM138 773h3v1h-3zM144 773h3v1h-3zM150 773h3v1h-3zM156 773h3v1h-3zM162 773h3v1h-3zM168 773h3v1h-3zM174 773h3v1h-3zM180 773h3v1h-3zM186 773h3v1h-3zM192 773h3v1h-3zM198 773h3v1h-3zM204 773h3v1h-3zM210 773h3v1h-3zM216 773h3v1h-3zM222 773h3v1h-3zM228 773h3v1h-3zM234 773h3v1h-3zM240 773h3v1h-3zM246 773h3v1h-3zM252 773h3v1h-3zM258 773h3v1h-3zM264 773h3v1h-3zM270 773h3v1h-3zM276 773h3v1h-3zM282 773h3v1h-3zM288 773h3v1h-3zM294 773h3v1h-3zM300 773h3v1h-3zM306 773h3v1h-3zM312 773h3v1h-3zM318 773h3v1h-3zM324 773h3v1h-3zM330 773h3v1h-3zM336 773h3v1h-3zM342 773h3v1h-3zM348 773h3v1h-3zM354 773h3v1h-3zM360 773h3v1h-3zM366 773h3v1h-3zM372 773h3v1h-3zM378 773h3v1h-3zM384 773h3v1h-3zM390 773h3v1h-3zM396 773h3v1h-3zM402 773h3v1h-3zM408 773h3v1h-3zM414 773h3v1h-3zM420 773h3v1h-3zM426 773h3v1h-3zM432 773h3v1h-3zM438 773h3v1h-3zM444 773h3v1h-3zM450 773h3v1h-3zM456 773h3v1h-3zM462 773h3v1h-3zM468 773h3v1h-3zM474 773h3v1h-3zM480 773h3v1h-3zM486 773h3v1h-3zM492 773h3v1h-3zM498 773h3v1h-3zM504 773h3v1h-3zM510 773h3v1h-3zM516 773h3v1h-3zM522 773h3v1h-3zM528 773h3v1h-3zM534 773h3v1h-3zM540 773h3v1h-3zM546 773h3v1h-3zM552 773h3v1h-3zM558 773h3v1h-3zM564 773h3v1h-3zM570 773h3v1h-3zM576 773h3v1h-3zM582 773h3v1h-3zM588 773h3v1h-3zM594 773h3v1h-3zM600 773h3v1h-3zM606 773h3v1h-3zM612 773h3v1h-3zM618 773h3v1h-3zM624 773h3v1h-3zM630 773h3v1h-3zM636 773h3v1h-3zM642 773h3v1h-3zM648 773h3v1h-3zM654 773h3v1h-3zM660 773h3v1h-3zM666 773h3v1h-3zM672 773h3v1h-3zM678 773h3v1h-3zM684 773h3v1h-3zM690 773h3v1h-3zM696 773h3v1h-3zM702 773h3v1h-3zM708 773h3v1h-3zM714 773h3v1h-3zM720 773h3v1h-3zM726 773h3v1h-3zM732 773h3v1h-3zM738 773h3v1h-3zM744 773h3v1h-3zM750 773h3v1h-3zM756 773h3v1h-3zM762 773h3v1h-3zM768 773h3v1h-3zM774 773h3v1h-3zM780 773h3v1h-3zM786 773h3v1h-3zM792 773h3v1h-3zM798 773h3v1h-3zM804 773h3v1h-3zM810 773h3v1h-3zM816 773h3v1h-3zM822 773h3v1h-3zM828 773h3v1h-3zM834 773h3v1h-3zM840 773h3v1h-3zM846 773h3v1h-3zM852 773h3v1h-3zM858 773h3v1h-3zM864 773h3v1h-3zM870 773h3v1h-3zM876 773h3v1h-3zM882 773h3v1h-3zM888 773h3v1h-3zM894 773h3v1h-3zM900 773h3v1h-3zM906 773h3v1h-3zM912 773h3v1h-3zM918 773h3v1h-3zM924 773h3v1h-3zM930 773h3v1h-3zM936 773h3v1h-3zM942 773h3v1h-3zM948 773h3v1h-3zM954 773h3v1h-3zM960 773h3v1h-3zM966 773h3v1h-3zM972 773h3v1h-3zM978 773h3v1h-3zM984 773h3v1h-3zM990 773h3v1h-3zM996 773h3v1h-3zM1002 773h3v1h-3zM1008 773h3v1h-3zM1014 773h3v1h-3zM1020 773h3v1h-3zM1026 773h3v1h-3zM1032 773h3v1h-3zM1038 773h3v1h-3zM1044 773h3v1h-3zM1050 773h3v1h-3zM1056 773h3v1h-3zM1062 773h3v1h-3zM1068 773h3v1h-3zM1074 773h3v1h-3zM1080 773h3v1h-3zM1086 773h3v1h-3zM1092 773h3v1h-3zM1098 773h3v1h-3zM1104 773h3v1h-3zM1110 773h3v1h-3zM1116 773h3v1h-3zM1122 773h3v1h-3zM1128 773h3v1h-3zM1134 773h3v1h-3zM1140 773h3v1h-3zM1146 773h3v1h-3zM1152 773h3v1h-3zM1158 773h3v1h-3zM1164 773h3v1h-3zM1170 773h3v1h-3zM1176 773h3v1h-3zM1182 773h3v1h-3zM1188 773h3v1h-3zM1194 773h3v1h-3zM1200 773h3v1h-3zM1206 773h3v1h-3zM1212 773h3v1h-3zM1218 773h3v1h-3zM1224 773h3v1h-3zM1230 773h3v1h-3zM1236 773h3v1h-3zM1242 773h3v1h-3zM1248 773h3v1h-3zM1254 773h3v1h-3zM1260 773h3v1h-3zM1266 773h3v1h-3zM1272 773h3v1h-3zM1278 773h3v1h-3zM1284 773h3v1h-3zM1290 773h3v1h-3zM1296 773h3v1h-3zM1302 773h3v1h-3zM1308 773h3v1h-3zM1314 773h3v1h-3zM1320 773h3v1h-3zM1326 773h3v1h-3zM1332 773h3v1h-3zM1338 773h3v1h-3zM1344 773h3v1h-3zM1350 773h3v1h-3zM1356 773h3v1h-3zM1362 773h3v1h-3zM1368 773h3v1h-3zM1374 773h3v1h-3zM1380 773h3v1h-3zM1386 773h3v1h-3zM1392 773h3v1h-3zM1398 773h3v1h-3zM1404 773h3v1h-3zM1410 773h3v1h-3zM1416 773h3v1h-3zM1422 773h3v1h-3zM1428 773h3v1h-3zM1434 773h3v1h-3zM1440 773h3v1h-3zM1446 773h3v1h-3zM1452 773h3v1h-3zM1458 773h3v1h-3zM1464 773h3v1h-3zM1470 773h3v1h-3zM1476 773h3v1h-3zM1482 773h3v1h-3zM1488 773h3v1h-3zM1494 773h3v1h-3zM1500 773h3v1h-3zM1506 773h3v1h-3zM1512 773h3v1h-3zM1518 773h3v1h-3zM1524 773h3v1h-3zM1530 773h3v1h-3zM1536 773h3v1h-3zM1542 773h3v1h-3zM1548 773h3v1h-3zM1554 773h3v1h-3zM1560 773h3v1h-3zM1566 773h3v1h-3zM1572 773h3v1h-3zM1578 773h3v1h-3zM1584 773h3v1h-3zM1590 773h3v1h-3zM1596 773h3v1h-3zM1602 773h3v1h-3zM1608 773h3v1h-3zM1614 773h3v1h-3zM1620 773h3v1h-3zM1626 773h3v1h-3zM1632 773h3v1h-3zM1638 773h3v1h-3zM1644 773h3v1h-3zM1650 773h3v1h-3zM1656 773h3v1h-3zM1662 773h3v1h-3zM1668 773h3v1h-3zM1674 773h3v1h-3zM1680 773h3v1h-3zM1686 773h3v1h-3zM1690 773h1v1h-1z"/>
<path fill="#c0c0c0" d="M6 830h3v1h-3zM12 830h3v1h-3zM18 830h3v1h-3zM24 830h3v1h-3zM30 830h3v1h-3zM36 830h3v1h-3zM42 830h3v1h-3zM48 830h3v1h-3zM54 830h3v1h-3zM60 830h3v1h-3zM66 830h3v1h-3zM72 830h3v1h-3zM78 830h3v1h-3zM84 830h3v1h-3zM90 830h3v1h-3zM96 830h3v1h-3zM102 830h3v1h-3zM108 830h3v1h-3zM114 830h3v1h-3zM120 830h3v1h-3zM126 830h3v1h-3zM132 830h3v1h-3zM138 830h3v1h-3zM144 830h3v1h-3zM150 830h3v1h-3zM156 830h3v1h-3zM162 830h3v1h-3zM168 830h3v1h-3zM174 830h3v1h-3zM180 830h3v1h-3zM186 830h3v1h-3zM192 830h3v1h-3zM198 830h3v1h-3zM204 830h3v1h-3zM210 830h3v1h-3zM216 830h3v1h-3zM222 830h3v1h-3zM228 830h3v1h-3zM234 830h3v1h-3zM240 830h3v1h-3zM246 830h3v1h-3zM252 830h3v1h-3zM258 830h3v1h-3zM264 830h3v1h-3zM270 830h3v1h-3zM276 830h3v1h-3zM282 830h3v1h-3zM288 830h3v1h-3zM294 830h3v1h-3zM300 830h3v1h-3zM306 830h3v1h-3zM312 830h3v1h-3zM318 830h3v1h-3zM324 830h3v1h-3zM330 830h3v1h-3zM336 830h3v1h-3zM342 830h3v1h-3zM348 830h3v1h-3zM354 830h3v1h-3zM360 830h3v1h-3zM366 830h3v1h-3zM372 830h3v1h-3zM378 830h3v1h-3zM384 830h3v1h-3zM390 830h3v1h-3zM396 830h3v1h-3zM402 830h3v1h-3zM408 830h3v1h-3zM414 830h3v1h-3zM420 830h3v1h-3zM426 830h3v1h-3zM432 830h3v1h-3zM438 830h3v1h-3zM444 830h3v1h-3zM450 830h3v1h-3zM456 830h3v1h-3zM462 830h3v1h-3zM468 830h3v1h-3zM474 830h3v1h-3zM480 830h3v1h-3zM486 830h3v1h-3zM492 830h3v1h-3zM498 830h3v1h-3zM504 830h3v1h-3zM510 830h3v1h-3zM516 830h3v1h-3zM522 830h3v1h-3zM528 830h3v1h-3zM534 830h3v1h-3zM540 830h3v1h-3zM546 830h3v1h-3zM552 830h3v1h-3zM558 830h3v1h-3zM564 830h3v1h-3zM570 830h3v1h-3zM576 830h3v1h-3zM582 830h3v1h-3zM588 830h3v1h-3zM594 830h3v1h-3zM600 830h3v1h-3zM606 830h3v1h-3zM612 830h3v1h-3zM618 830h3v1h-3zM624 830h3v1h-3zM630 830h3v1h-3zM636 830h3v1h-3zM642 830h3v1h-3zM648 830h3v1h-3zM654 830h3v1h-3zM660 830h3v1h-3zM666 830h3v1h-3zM672 830h3v1h-3zM678 830h3v1h-3zM684 830h3v1h-3zM690 830h3v1h-3zM696 830h3v1h-3zM702 830h3v1h-3zM708 830h3v1h-3zM714 830h3v1h-3zM720 830h3v1h-3zM726 830h3v1h-3zM732 830h3v1h-3zM738 830h3v1h-3zM744 830h3v1h-3zM750 830h3v1h-3zM756 830h3v1h-3zM762 830h3v1h-3zM768 830h3v1h-3zM774 830h3v1h-3zM780 830h3v1h-3zM786 830h3v1h-3zM792 830h3v1h-3zM798 830h3v1h-3zM804 830h3v1h-3zM810 830h3v1h-3zM816 830h3v1h-3zM822 830h3v1h-3zM828 830h3v1h-3zM834 830h3v1h-3zM840 830h3v1h-3zM846 830h3v1h-3zM852 830h3v1h-3zM858 830h3v1h-3zM864 830h3v1h-3zM870 830h3v1h-3zM876 830h3v1h-3zM882 830h3v1h-3zM888 830h3v1h-3zM894 830h3v1h-3zM900 830h3v1h-3zM906 830h3v1h-3zM912 830h3v1h-3zM918 830h3v1h-3zM924 830h3v1h-3zM930 830h3v1h-3zM936 830h3v1h-3zM942 830h3v1h-3zM948 830h3v1h-3zM954 830h3v1h-3zM960 830h3v1h-3zM966 830h3v1h-3zM972 830h3v1h-3zM978 830h3v1h-3zM984 830h3v1h-3zM990 830h3v1h-3zM996 830h3v1h-3zM1002 830h3v1h-3zM1008 830h3v1h-3zM1014 830h3v1h-3zM1020 830h3v1h-3zM1026 830h3v1h-3zM1032 830h3v1h-3zM1038 830h3v1h-3zM1044 830h3v1h-3zM1050 830h3v1h-3zM1056 830h3v1h-3zM1062 830h3v1h-3zM1068 830h3v1h-3zM1074 830h3v1h-3zM1080 830h3v1h-3zM1086 830h3v1h-3zM1092 830h3v1h-3zM1098 830h3v1h-3zM1104 830h3v1h-3zM1110 830h3v1h-3zM1116 830h3v1h-3zM1122 830h3v1h-3zM1128 830h3v1h-3zM1134 830h3v1h-3zM1140 830h3v1h-3zM1146 830h3v1h-3zM1152 830h3v1h-3zM1158 830h3v1h-3zM1164 830h3v1h-3zM1170 830h3v1h-3zM1176 830h3v1h-3zM1182 830h3v1h-3zM1188 830h3v1h-3zM1194 830h3v1h-3zM1200 830h3v1h-3zM1206 830h3v1h-3zM1212 830h3v1h-3zM1218 830h3v1h-3zM1224 830h3v1h-3zM1230 830h3v1h-3zM1236 830h3v1h-3zM1242 830h3v1h-3zM1248 830h3v1h-3zM1254 830h3v1h-3zM1260 830h3v1h-3zM1266 830h3v1h-3zM1272 830h3v1h-3zM1278 830h3v1h-3zM1284 830h3v1h-3zM1290 830h3v1h-3zM1296 830h3v1h-3zM1302 830h3v1h-3zM1308 830h3v1h-3zM1314 830h3v1h-3zM1320 830h3v1h-3zM1326 830h3v1h-3zM1332 830h3v1h-3zM1338 830h3v1h-3zM1344 830h3v1h-3zM1350 830h3v1h-3zM1356 830h3v1h-3zM1362 830h3v1h-3zM1368 830h3v1h-3zM1374 830h3v1h-3zM1380 830h3v1h-3zM1386 830h3v1h-3zM1392 830h3v1h-3zM1398 830h3v1h-3zM1404 830h3v1h-3zM1410 830h3v1h-3zM1416 830h3v1h-3zM1422 830h3v1h-3zM1428 830h3v1h-3zM1434 830h3v1h-3zM1440 830h3v1h-3zM1446 830h3v1h-3zM1452 830h3v1h-3zM1458 830h3v1h-3zM1464 830h3v1h-3zM1470 830h3v1h-3zM1476 830h3v1h-3zM1482 830h3v1h-3zM1488 830h3v1h-3zM1494 830h3v1h-3zM1500 830h3v1h-3zM1506 830h3v1h-3zM1512 830h3v1h-3zM1518 830h3v1h-3zM1524 830h3v1h-3zM1530 830h3v1h-3zM1536 830h3v1h-3zM1542 830h3v1h-3zM1548 830h3v1h-3zM1554 830h3v1h-3zM1560 830h3v1h-3zM1566 830h3v1h-3zM1572 830h3v1h-3zM1578 830h3v1h-3zM1584 830h3v1h-3zM1590 830h3v1h-3zM1596 830h3v1h-3zM1602 830h3v1h-3zM1608 830h3v1h-3zM1614 830h3v1h-3zM1620 830h3v1h-3zM1626 830h3v1h-3zM1632 830h3v1h-3zM1638 830h3v1h-3zM1644 830h3v1h-3zM1650 830h3v1h-3zM1656 830h3v1h-3zM1662 830h3v1h-3zM1668 830h3v1h-3zM1674 830h3v1h-3zM1680 830h3v1h-3zM1686 830h3v1h-3zM1690 830h1v1h-1z"/>
<path fill="#1e90ff" d="M6 794h1v1h-1zM7 793h2v1h-2zM9 792h2v1h-2zM11 791h1v1h-1zM12 790h2v1h-2zM14 789h3v1h-3zM17 788h4v1h-4zM21 787h11v1h-11zM32 788h3v1h-3zM35 789h2v1h-2zM37 790h4v1h-4zM41 791h4v1h-4zM45 792h2v1h-2zM47 791h1v1h-1zM48 789h1v2h-1zM49 788h1v1h-1zM50 787h1v1h-1zM51 786h1v1h-1zM52 784h1v2h-1zM53 783h1v1h-1zM54 782h1v1h-1zM55 783h2v1h-2zM57 784h1v1h-1zM58 785h1v1h-1zM59 786h2v1h-2zM61 787h1v1h-1zM62 788h1v1h-1zM63 789h2v1h-2zM65 790h1v1h-1zM66 791h1v1h-1zM67 792h2v1h-2zM69 793h1v1h-1zM70 794h2v1h-2zM72 795h2v1h-2zM74 796h2v1h-2zM76 797h2v1h-2zM78 798h3v1h-3zM81 797h4v1h-4zM85 796h3v1h-3zM88 797h2v1h-2zM90 798h2v1h-2zM92 799h2v1h-2zM94 800h3v1h-3zM97 799h4v1h-4zM101 798h6v1h-6zM107 797h5v1h-5zM112 796h2v1h-2zM114 795h2v1h-2zM116 794h2v1h-2zM118 793h9v1h-9zM127 794h1v1h-1zM128 795h1v1h-1zM129 796h1v1h-1zM130 797h1v2h-1zM131 799h1v1h-1zM132 800h1v1h-1zM133 801h1v1h-1zM134 802h1v1h-1zM135 803h1v2h-1zM136 805h1v2h-1zM137 807h1v2h-1zM138 809h1v2h-1zM139 811h1v2h-1zM140 813h1v2h-1zM141 815h1v2h-1zM142 817h1v1h-1zM143 818h1v2h-1zM144 820h1v2h-1zM145 822h1v2h-1zM146 824h1v2h-1zM147 826h1v2h-1zM148 828h1v2h-1zM149 830h1v2h-1zM150 831h1v2h-1zM151 828h1v3h-1zM152 825h1v3h-1zM153 822h1v3h-1zM154 819h1v3h-1zM155 816h1v3h-1zM156 813h1v3h-1zM157 810h1v3h-1zM158 808h1v2h-1zM159 808h9v1h-9zM168 807h2v1h-2zM170 806h2v1h-2zM172 805h2v1h-2zM174 804h2v1h-2zM176 805h2v1h-2zM178 806h2v1h-2zM180 807h2v1h-2zM182 808h1v1h-1zM183 807h1v1h-1zM184 806h1v1h-1zM185 805h1v1h-1zM186 804h1v1h-1zM187 803h1v1h-1zM188 802h1v1h-1zM189 801h1v1h-1zM190 800h2v1h-2zM192 799h2v1h-2zM194 798h2v1h-2zM196 797h2v1h-2zM198 796h2v1h-2zM200 797h2v1h-2zM202 798h2v1h-2zM204 799h2v1h-2zM206 800h2v1h-2zM208 801h2v1h-2zM210 802h2v1h-2zM212 803h2v1h-2zM214 804h3v1h-3zM217 803h4v1h-4zM221 802h4v1h-4zM225 801h4v1h-4zM229 800h3v1h-3zM232 801h2v1h-2zM234 802h2v1h-2zM236 803h2v1h-2zM238 804h1v1h-1zM239 803h1v1h-1zM240 801h1v2h-1zM241 800h1v1h-1zM242 799h1v1h-1zM243 798h1v1h-1zM244 796h1v2h-1zM245 795h1v1h-1zM246 794h1v1h-1zM247 793h1v1h-1zM248 791h1v2h-1zM249 790h1v1h-1zM250 789h1v1h-1zM251 788h1v1h-1zM252 786h1v2h-1zM253 785h1v1h-1zM254 784h3v1h-3zM257 783h4v1h-4zM261 782h6v1h-6zM267 781h8v1h-8zM275 782h12v1h-12zM287 783h1v2h-1zM288 785h1v1h-1zM289 786h1v1h-1zM290 787h1v2h-1zM291 789h1v1h-1zM292 790h1v1h-1zM293 791h1v2h-1zM294 793h1v1h-1zM295 792h1v1h-1zM296 791h1v1h-1zM297 790h1v1h-1zM298 788h1v2h-1zM299 787h1v1h-1zM300 786h1v1h-1zM301 785h1v1h-1zM302 784h5v1h-5zM307 785h8v1h-8zM315 784h6v1h-6zM321 785h4v1h-4zM325 786h6v1h-6zM331 785h4v1h-4zM335 786h1v2h-1zM336 788h1v2h-1zM337 790h1v2h-1zM338 792h1v2h-1zM339 794h1v2h-1zM340 796h1v2h-1zM341 798h1v2h-1zM342 800h1v1h-1zM343 799h2v1h-2zM345 798h2v1h-2zM347 797h1v1h-1zM348 796h2v1h-2zM350 795h1v1h-1zM351 796h1v1h-1zM352 797h1v1h-1zM353 798h2v1h-2zM355 799h1v1h-1zM356 800h1v1h-1zM357 801h1v1h-1zM358 802h2v1h-2zM360 803h3v1h-3zM363 804h2v1h-2zM365 805h3v1h-3zM368 804h3v1h-3zM371 803h2v1h-2zM373 802h2v1h-2zM375 803h2v1h-2zM377 804h1v1h-1zM378 805h1v1h-1zM379 806h2v1h-2zM381 807h1v1h-1zM382 808h1v1h-1zM383 807h1v1h-1zM384 806h1v1h-1zM385 805h1v1h-1zM386 804h1v1h-1zM387 803h1v1h-1zM388 802h1v1h-1zM389 801h1v1h-1zM390 800h3v1h-3zM393 801h4v1h-4zM397 802h12v1h-12zM409 803h4v1h-4zM413 804h3v1h-3zM416 803h3v1h-3zM419 802h2v1h-2zM421 801h2v1h-2zM423 800h2v1h-2zM425 799h2v1h-2zM427 798h1v1h-1zM428 797h2v1h-2zM430 796h1v1h-1zM431 795h1v1h-1zM432 794h1v1h-1zM433 793h2v1h-2zM435 792h1v1h-1zM436 791h1v1h-1zM437 790h1v1h-1zM438 789h2v1h-2zM440 788h2v1h-2zM442 787h2v1h-2zM444 786h2v1h-2zM446 785h1v2h-1zM447 787h1v2h-1zM448 789h1v2h-1zM449 791h1v2h-1zM450 793h1v2h-1zM451 795h1v2h-1zM452 797h1v2h-1zM453 799h1v2h-1zM454 801h1v1h-1zM455 802h1v1h-1zM456 803h1v2h-1zM457 805h1v1h-1zM458 806h1v1h-1zM459 807h1v1h-1zM460 808h1v2h-1zM461 810h1v1h-1zM462 811h2v1h-2zM464 810h2v1h-2zM466 809h2v1h-2zM468 808h2v1h-2zM470 807h2v1h-2zM472 806h2v1h-2zM474 805h2v1h-2zM476 804h2v1h-2zM478 803h1v1h-1zM479 802h2v1h-2zM481 801h1v1h-1zM482 800h1v1h-1zM483 799h2v1h-2zM485 798h1v1h-1zM486 797h2v1h-2zM488 798h3v1h-3zM491 799h2v1h-2zM493 800h4v1h-4zM497 799h4v1h-4zM501 798h2v1h-2zM503 799h1v1h-1zM504 800h1v1h-1zM505 801h1v1h-1zM506 802h1v2h-1zM507 804h1v1h-1zM508 805h1v1h-1zM509 806h1v1h-1zM510 807h1v1h-1zM511 806h2v1h-2zM513 805h2v1h-2zM515 804h1v1h-1zM516 803h2v1h-2zM518 802h2v1h-2zM520 801h2v1h-2zM522 800h2v1h-2zM524 799h2v1h-2zM526 798h3v1h-3zM529 799h4v1h-4zM533 800h3v1h-3zM536 801h3v1h-3zM539 802h2v1h-2zM541 803h1v1h-1zM542 803h1v3h-1zM543 806h1v4h-1zM544 810h1v4h-1zM545 814h1v4h-1zM546 818h1v4h-1zM547 822h1v4h-1zM548 826h1v4h-1zM549 830h1v4h-1zM550 834h1v2h-1zM551 835h4v1h-4zM555 836h4v1h-4zM559 835h2v1h-2zM561 834h1v1h-1zM562 833h1v1h-1zM563 832h2v1h-2zM565 831h1v1h-1zM566 830h5v1h-5zM571 831h4v1h-4zM575 832h2v1h-2zM577 833h2v1h-2zM579 834h1v1h-1zM580 835h2v1h-2zM582 836h1v1h-1zM583 837h1v1h-1zM584 838h1v1h-1zM585 839h2v1h-2zM587 840h1v1h-1zM588 841h1v1h-1zM589 842h1v1h-1zM590 843h1v1h-1zM591 842h1v1h-1zM592 840h1v2h-1zM593 839h1v1h-1zM594 838h1v1h-1zM595 837h1v1h-1zM596 835h1v2h-1zM597 834h1v1h-1zM598 833h1v1h-1zM599 832h1v1h-1zM600 831h1v1h-1zM601 830h1v1h-1zM602 828h1v2h-1zM603 827h1v1h-1zM604 826h1v1h-1zM605 825h1v1h-1zM606 824h2v1h-2zM608 825h3v1h-3zM611 826h2v1h-2zM613 827h6v1h-6zM619 828h3v1h-3zM622 827h1v2h-1zM623 825h1v2h-1zM624 823h1v2h-1zM625 821h1v2h-1zM626 819h1v2h-1zM627 817h1v2h-1zM628 815h1v2h-1zM629 813h1v2h-1zM630 812h3v1h-3zM633 811h4v1h-4zM637 810h1v1h-1zM638 810h1v2h-1zM639 812h1v2h-1zM640 814h1v3h-1zM641 817h1v3h-1zM642 820h1v2h-1zM643 822h1v3h-1zM644 825h1v3h-1zM645 828h1v2h-1zM646 830h1v2h-1zM647 831h1v1h-1zM648 832h2v1h-2zM650 833h2v1h-2zM652 834h2v1h-2zM654 835h9v1h-9zM663 836h2v1h-2zM665 837h2v1h-2zM667 838h1v1h-1zM668 839h2v1h-2zM670 840h1v1h-1zM671 838h1v2h-1zM672 837h1v1h-1zM673 835h1v2h-1zM674 834h1v1h-1zM675 832h1v2h-1zM676 831h1v1h-1zM677 829h1v2h-1zM678 828h3v1h-3zM681 829h4v1h-4zM685 830h22v1h-22zM707 829h14v1h-14zM721 830h4v1h-4zM725 831h4v1h-4zM729 832h4v1h-4zM733 833h2v1h-2zM735 834h1v2h-1zM736 836h1v1h-1zM737 837h1v2h-1zM738 839h1v1h-1zM739 840h1v2h-1zM740 842h1v1h-1zM741 843h1v2h-1zM742 845h1v1h-1zM743 846h2v1h-2zM745 847h2v1h-2zM747 848h1v1h-1zM748 849h2v1h-2zM750 850h1v1h-1zM751 849h1v1h-1zM752 847h1v2h-1zM753 846h1v1h-1zM754 845h1v1h-1zM755 844h1v1h-1zM756 842h1v2h-1zM757 841h1v1h-1zM758 840h3v1h-3zM761 841h4v1h-4zM765 842h4v1h-4zM769 843h4v1h-4zM773 844h1v1h-1zM774 843h1v2h-1zM775 840h1v3h-1zM776 838h1v2h-1zM777 835h1v3h-1zM778 832h1v3h-1zM779 829h1v3h-1zM780 827h1v2h-1zM781 824h1v3h-1zM782 822h1v2h-1zM783 822h4v1h-4zM787 821h4v1h-4zM791 820h2v1h-2zM793 819h2v1h-2zM795 818h1v1h-1zM796 817h2v1h-2zM798 816h3v1h-3zM801 815h4v1h-4zM805 814h4v1h-4zM809 815h4v1h-4zM813 816h6v1h-6zM819 817h8v1h-8zM827 818h8v1h-8zM835 819h5v1h-5zM840 818h2v1h-2zM842 817h2v1h-2zM844 816h2v1h-2zM846 815h1v1h-1zM847 816h1v1h-1zM848 817h1v1h-1zM849 818h1v1h-1zM850 819h1v2h-1zM851 821h1v1h-1zM852 822h1v1h-1zM853 823h1v1h-1zM854 824h1v1h-1zM855 823h2v1h-2zM857 822h2v1h-2zM859 821h1v1h-1zM860 820h2v1h-2zM862 819h5v1h-5zM867 820h6v1h-6zM873 821h4v1h-4zM877 822h3v1h-3zM880 821h3v1h-3zM883 820h2v1h-2zM885 819h2v1h-2zM887 818h1v1h-1zM888 817h1v1h-1zM889 816h2v1h-2zM891 815h1v1h-1zM892 814h1v1h-1zM893 813h1v1h-1zM894 812h5v1h-5zM899 813h5v1h-5zM904 814h3v1h-3zM907 815h2v1h-2zM909 816h3v1h-3zM912 815h3v1h-3zM915 814h2v1h-2zM917 813h3v1h-3zM920 812h2v1h-2zM922 811h2v1h-2zM924 810h2v1h-2zM926 809h1v1h-1zM927 810h2v1h-2zM929 811h2v1h-2zM931 812h1v1h-1zM932 813h2v1h-2zM934 814h5v1h-5zM939 815h8v1h-8zM947 816h6v1h-6zM953 815h4v1h-4zM957 814h4v1h-4zM961 813h4v1h-4zM965 812h4v1h-4zM969 813h4v1h-4zM973 814h4v1h-4zM977 815h4v1h-4zM981 816h1v1h-1zM982 815h1v2h-1zM983 813h1v2h-1zM984 811h1v2h-1zM985 809h1v2h-1zM986 807h1v2h-1zM987 805h1v2h-1zM988 803h1v2h-1zM989 801h1v2h-1zM990 800h2v1h-2zM992 799h3v1h-3zM995 798h2v1h-2zM997 797h2v1h-2zM999 796h1v1h-1zM1000 795h1v1h-1zM1001 794h1v1h-1zM1002 792h1v2h-1zM1003 791h1v1h-1zM1004 790h1v1h-1zM1005 789h1v1h-1zM1006 788h1v1h-1zM1007 787h2v1h-2zM1009 786h1v1h-1zM1010 785h1v1h-1zM1011 784h2v1h-2zM1013 783h1v1h-1zM1014 782h1v1h-1zM1015 781h2v1h-2zM1017 780h1v1h-1zM1018 779h1v1h-1zM1019 778h2v1h-2zM1021 777h1v1h-1zM1022 776h2v1h-2zM1024 775h2v1h-2zM1026 774h2v1h-2zM1028 773h2v1h-2zM1030 772h5v1h-5zM1035 773h4v1h-4zM1039 772h1v1h-1zM1040 771h1v1h-1zM1041 770h1v1h-1zM1042 769h1v1h-1zM1043 768h1v1h-1zM1044 767h1v1h-1zM1045 766h1v1h-1zM1046 765h2v1h-2zM1048 764h2v1h-2zM1050 763h2v1h-2zM1052 762h2v1h-2zM1054 761h8v1h-8zM1062 761h1v2h-1zM1063 763h1v2h-1zM1064 765h1v2h-1zM1065 767h1v2h-1zM1066 769h1v2h-1zM1067 771h1v2h-1zM1068 773h1v2h-1zM1069 775h1v2h-1zM1070 777h5v1h-5zM1075 776h5v1h-5zM1080 775h2v1h-2zM1082 774h2v1h-2zM1084 773h2v1h-2zM1086 772h1v1h-1zM1087 771h1v1h-1zM1088 770h1v1h-1zM1089 769h1v1h-1zM1090 768h1v1h-1zM1091 767h1v1h-1zM1092 766h1v1h-1zM1093 765h1v1h-1zM1094 764h5v1h-5zM1099 763h8v1h-8zM1107 762h6v1h-6zM1113 761h4v1h-4zM1117 760h10v1h-10zM1127 761h1v2h-1zM1128 763h1v2h-1zM1129 765h1v1h-1zM1130 766h1v2h-1zM1131 768h1v1h-1zM1132 769h1v2h-1zM1133 771h1v2h-1zM1134 773h1v1h-1zM1135 772h2v1h-2zM1137 771h2v1h-2zM1139 770h1v1h-1zM1140 769h2v1h-2zM1142 768h1v1h-1zM1143 769h1v1h-1zM1144 770h1v1h-1zM1145 771h1v1h-1zM1146 772h1v2h-1zM1147 774h1v1h-1zM1148 775h1v1h-1zM1149 776h1v1h-1zM1150 777h13v1h-13zM1163 778h5v1h-5zM1168 777h2v1h-2zM1170 776h2v1h-2zM1172 775h2v1h-2zM1174 774h1v2h-1zM1175 776h1v2h-1zM1176 778h1v3h-1zM1177 781h1v3h-1zM1178 784h1v2h-1zM1179 786h1v3h-1zM1180 789h1v3h-1zM1181 792h1v2h-1zM1182 794h1v2h-1zM1183 795h4v1h-4zM1187 794h3v1h-3zM1190 794h1v2h-1zM1191 796h1v2h-1zM1192 798h1v2h-1zM1193 800h1v2h-1zM1194 802h1v2h-1zM1195 804h1v2h-1zM1196 806h1v2h-1zM1197 808h1v2h-1zM1198 810h1v2h-1zM1199 810h2v1h-2zM1201 809h1v1h-1zM1202 808h1v1h-1zM1203 807h2v1h-2zM1205 806h1v1h-1zM1206 805h5v1h-5zM1211 804h5v1h-5zM1216 805h2v1h-2zM1218 806h2v1h-2zM1220 807h2v1h-2zM1222 808h27v1h-27zM1249 807h4v1h-4zM1253 806h4v1h-4zM1257 807h4v1h-4zM1261 808h2v1h-2zM1263 809h2v1h-2zM1265 810h1v1h-1zM1266 811h1v1h-1zM1267 812h2v1h-2zM1269 813h1v1h-1zM1270 814h1v1h-1zM1271 813h1v1h-1zM1272 812h1v1h-1zM1273 811h1v1h-1zM1274 809h1v2h-1zM1275 808h1v1h-1zM1276 807h1v1h-1zM1277 806h1v1h-1zM1278 805h5v1h-5zM1283 804h12v1h-12zM1295 805h2v1h-2zM1297 806h2v1h-2zM1299 807h1v1h-1zM1300 808h2v1h-2zM1302 809h1v1h-1zM1303 810h2v1h-2zM1305 811h1v1h-1zM1306 812h1v1h-1zM1307 813h2v1h-2zM1309 814h1v1h-1zM1310 815h2v1h-2zM1312 814h3v1h-3zM1315 813h2v1h-2zM1317 812h2v1h-2zM1319 811h1v1h-1zM1320 810h1v1h-1zM1321 809h1v1h-1zM1322 807h1v2h-1zM1323 806h1v1h-1zM1324 805h1v1h-1zM1325 804h1v1h-1zM1326 803h1v1h-1zM1327 802h2v1h-2zM1329 801h1v1h-1zM1330 800h1v1h-1zM1331 799h2v1h-2zM1333 798h1v1h-1zM1334 797h3v1h-3zM1337 798h4v1h-4zM1341 799h2v1h-2zM1343 798h1v1h-1zM1344 797h1v1h-1zM1345 796h1v1h-1zM1346 795h1v1h-1zM1347 794h1v1h-1zM1348 793h1v1h-1zM1349 792h1v1h-1zM1350 791h3v1h-3zM1353 790h4v1h-4zM1357 789h3v1h-3zM1360 788h2v1h-2zM1362 787h2v1h-2zM1364 786h2v1h-2zM1366 785h2v1h-2zM1368 786h3v1h-3zM1371 787h2v1h-2zM1373 788h2v1h-2zM1375 789h1v2h-1zM1376 791h1v2h-1zM1377 793h1v2h-1zM1378 795h1v1h-1zM1379 796h1v2h-1zM1380 798h1v2h-1zM1381 800h1v2h-1zM1382 802h2v1h-2zM1384 801h2v1h-2zM1386 800h2v1h-2zM1388 799h2v1h-2zM1390 798h3v1h-3zM1393 799h4v1h-4zM1397 800h4v1h-4zM1401 799h4v1h-4zM1405 798h11v1h-11zM1416 799h2v1h-2zM1418 800h2v1h-2zM1420 801h2v1h-2zM1422 802h2v1h-2zM1424 803h3v1h-3zM1427 804h2v1h-2zM1429 805h2v1h-2zM1431 803h1v2h-1zM1432 801h1v2h-1zM1433 799h1v2h-1zM1434 797h1v2h-1zM1435 795h1v2h-1zM1436 793h1v2h-1zM1437 791h1v2h-1zM1438 790h5v1h-5zM1443 789h5v1h-5zM1448 788h2v1h-2zM1450 787h2v1h-2zM1452 786h2v1h-2zM1454 785h9v1h-9zM1463 786h1v1h-1zM1464 787h1v1h-1zM1465 788h1v1h-1zM1466 789h1v2h-1zM1467 791h1v1h-1zM1468 792h1v1h-1zM1469 793h1v1h-1zM1470 794h5v1h-5zM1475 795h8v1h-8zM1483 796h3v1h-3zM1486 796h1v3h-1zM1487 799h1v4h-1zM1488 803h1v5h-1zM1489 808h1v5h-1zM1490 813h1v4h-1zM1491 817h1v5h-1zM1492 822h1v5h-1zM1493 827h1v4h-1zM1494 831h1v3h-1zM1495 831h1v2h-1zM1496 830h1v1h-1zM1497 829h1v1h-1zM1498 827h1v2h-1zM1499 826h1v1h-1zM1500 825h1v1h-1zM1501 823h1v2h-1zM1502 822h2v1h-2zM1504 821h2v1h-2zM1506 820h2v1h-2zM1508 819h2v1h-2zM1510 818h2v1h-2zM1512 819h2v1h-2zM1514 820h2v1h-2zM1516 821h2v1h-2zM1518 822h2v1h-2zM1520 821h3v1h-3zM1523 820h2v1h-2zM1525 819h3v1h-3zM1528 818h2v1h-2zM1530 817h2v1h-2zM1532 816h2v1h-2zM1534 815h1v1h-1zM1535 813h1v2h-1zM1536 811h1v2h-1zM1537 809h1v2h-1zM1538 808h1v1h-1zM1539 806h1v2h-1zM1540 804h1v2h-1zM1541 802h1v2h-1zM1542 801h2v1h-2zM1544 800h2v1h-2zM1546 799h2v1h-2zM1548 798h2v1h-2zM1550 797h5v1h-5zM1555 796h6v1h-6zM1561 795h4v1h-4zM1565 794h2v1h-2zM1567 795h2v1h-2zM1569 796h2v1h-2zM1571 797h1v1h-1zM1572 798h2v1h-2zM1574 799h1v1h-1zM1575 800h1v1h-1zM1576 801h1v1h-1zM1577 802h2v1h-2zM1579 803h1v1h-1zM1580 804h1v1h-1zM1581 805h1v1h-1zM1582 806h1v2h-1zM1583 808h1v3h-1zM1584 811h1v2h-1zM1585 813h1v3h-1zM1586 816h1v3h-1zM1587 819h1v3h-1zM1588 822h1v2h-1zM1589 824h1v3h-1zM1590 827h1v2h-1zM1591 826h1v2h-1zM1592 825h1v1h-1zM1593 824h1v1h-1zM1594 822h1v2h-1zM1595 821h1v1h-1zM1596 820h1v1h-1zM1597 818h1v2h-1zM1598 817h3v1h-3zM1601 818h4v1h-4zM1605 819h3v1h-3zM1608 820h2v1h-2zM1610 821h2v1h-2zM1612 822h2v1h-2zM1614 823h1v1h-1zM1615 824h1v1h-1zM1616 825h1v1h-1zM1617 826h1v1h-1zM1618 827h1v1h-1zM1619 828h1v1h-1zM1620 829h1v1h-1zM1621 830h1v1h-1zM1622 831h3v1h-3zM1625 832h4v1h-4zM1629 833h3v1h-3zM1632 832h3v1h-3zM1635 831h2v1h-2zM1637 830h3v1h-3zM1640 831h3v1h-3zM1643 832h2v1h-2zM1645 833h10v1h-10zM1655 832h1v1h-1zM1656 831h1v1h-1zM1657 830h2v1h-2zM1659 829h1v1h-1zM1660 828h1v1h-1zM1661 827h1v1h-1zM1662 826h1v1h-1zM1663 825h2v1h-2zM1665 824h2v1h-2zM1667 823h1v1h-1zM1668 822h2v1h-2zM1670 821h1v1h-1z"/>
</g>
<g shape-rendering="crispEdges">
<rect x="1692" y="34" width="2" height="1" fill="#000"/>
<rect x="1692" y="67" width="2" height="1" fill="#000"/>
<rect x="1692" y="100" width="2" height="1" fill="#000"/>
<rect x="1692" y="133" width="2" height="1" fill="#000"/>
<rect x="1692" y="166" width="2" height="1" fill="#000"/>
<rect x="1692" y="199" width="2" height="1" fill="#000"/>
<rect x="1692" y="232" width="2" height="1" fill="#000"/>
<rect x="1692" y="265" width="2" height="1" fill="#000"/>
<rect x="1692" y="298" width="2" height="1" fill="#000"/>
<rect x="1692" y="331" width="2" height="1" fill="#000"/>
<rect x="1692" y="364" width="2" height="1" fill="#000"/>
<rect x="1692" y="397" width="2" height="1" fill="#000"/>
<rect x="1692" y="430" width="2" height="1" fill="#000"/>
<rect x="1692" y="463" width="2" height="1" fill="#000"/>
<rect x="1692" y="496" width="2" height="1" fill="#000"/>
<rect x="1692" y="529" width="2" height="1" fill="#000"/>
<rect x="1692" y="562" width="2" height="1" fill="#000"/>
<rect x="1692" y="569" width="2" height="1" fill="#000"/>
<rect x="1692" y="634" width="2" height="1" fill="#000"/>
<rect x="1692" y="725" width="2" height="1" fill="#000"/>
<rect x="1692" y="730" width="2" height="1" fill="#000"/>
<rect x="1692" y="773" width="2" height="1" fill="#000"/>
<rect x="1692" y="830" width="2" height="1" fill="#000"/>
<rect x="1692" y="873" width="2" height="1" fill="#000"/>
<rect x="6" y="875" width="1" height="3" fill="#000"/>
<rect x="70" y="875" width="1" height="3" fill="#000"/>
<rect x="134" y="875" width="1" height="3" fill="#000"/>
<rect x="198" y="875" width="1" height="3" fill="#000"/>
<rect x="262" y="875" width="1" height="3" fill="#000"/>
<rect x="326" y="875" width="1" height="3" fill="#000"/>
<rect x="390" y="875" width="1" height="3" fill="#000"/>
<rect x="454" y="875" width="1" height="3" fill="#000"/>
<rect x="518" y="875" width="1" height="3" fill="#000"/>
<rect x="582" y="875" width="1" height="3" fill="#000"/>
<rect x="646" y="875" width="1" height="3" fill="#000"/>
<rect x="710" y="875" width="1" height="3" fill="#000"/>
<rect x="774" y="875" width="1" height="3" fill="#000"/>
<rect x="838" y="875" width="1" height="3" fill="#000"/>
<rect x="902" y="875" width="1" height="3" fill="#000"/>
<rect x="966" y="875" width="1" height="3" fill="#000"/>
<rect x="1030" y="875" width="1" height="3" fill="#000"/>
<rect x="1094" y="875" width="1" height="3" fill="#000"/>
<rect x="1158" y="875" width="1" height="3" fill="#000"/>
<rect x="1222" y="875" width="1" height="3" fill="#000"/>
<rect x="1286" y="875" width="1" height="3" fill="#000"/>
<rect x="1350" y="875" width="1" height="3" fill="#000"/>
<rect x="1414" y="875" width="1" height="3" fill="#000"/>
<rect x="1478" y="875" width="1" height="3" fill="#000"/>
<rect x="1542" y="875" width="1" height="3" fill="#000"/>
<rect x="1606" y="875" width="1" height="3" fill="#000"/>
<rect x="1670" y="875" width="1" height="3" fill="#000"/>
</g>
<text x="1697" y="38" font-size="10" fill="#000" stroke="#000" stroke-width="0.12" text-anchor="start" textLength="28.0" lengthAdjust="spacingAndGlyphs">44.115</text>
<text x="1697" y="71" font-size="10" fill="#000" stroke="#000" stroke-width="0.12" text-anchor="start" textLength="28.0" lengthAdjust="spacingAndGlyphs">43.605</text>
<text x="1697" y="104" font-size="10" fill="#000" stroke="#000" stroke-width="0.12" text-anchor="start" textLength="28.0" lengthAdjust="spacingAndGlyphs">43.095</text>
<text x="1697" y="137" font-size="10" fill="#000" stroke="#000" stroke-width="0.12" text-anchor="start" textLength="28.0" lengthAdjust="spacingAndGlyphs">42.585</text>
<text x="1697" y="170" font-size="10" fill="#000" stroke="#000" stroke-width="0.12" text-anchor="start" textLength="28.0" lengthAdjust="spacingAndGlyphs">42.075</text>
<text x="1697" y="203" font-size="10" fill="#000" stroke="#000" stroke-width="0.12" text-anchor="start" textLength="28.0" lengthAdjust="spacingAndGlyphs">41.565</text>
<text x="1697" y="236" font-size="10" fill="#000" stroke="#000" stroke-width="0.12" text-anchor="start" textLength="28.0" lengthAdjust="spacingAndGlyphs">41.055</text>
<text x="1697" y="269" font-size="10" fill="#000" stroke="#000" stroke-width="0.12" text-anchor="start" textLength="28.0" lengthAdjust="spacingAndGlyphs">40.545</text>
<text x="1697" y="302" font-size="10" fill="#000" stroke="#000" stroke-width="0.12" text-anchor="start" textLength="28.0" lengthAdjust="spacingAndGlyphs">40.035</text>
<text x="1697" y="335" font-size="10" fill="#000" stroke="#000" stroke-width="0.12" text-anchor="start" textLength="28.0" lengthAdjust="spacingAndGlyphs">39.525</text>
<text x="1697" y="368" font-size="10" fill="#000" stroke="#000" stroke-width="0.12" text-anchor="start" textLength="28.0" lengthAdjust="spacingAndGlyphs">39.015</text>
<text x="1697" y="401" font-size="10" fill="#000" stroke="#000" stroke-width="0.12" text-anchor="start" textLength="28.0" lengthAdjust="spacingAndGlyphs">38.505</text>
<text x="1697" y="434" font-size="10" fill="#000" stroke="#000" stroke-width="0.12" text-anchor="start" textLength="28.0" lengthAdjust="spacingAndGlyphs">37.995</text>
<text x="1697" y="467" font-size="10" fill="#000" stroke="#000" stroke-width="0.12" text-anchor="start" textLength="28.0" lengthAdjust="spacingAndGlyphs">37.485</text>
<text x="1697" y="500" font-size="10" fill="#000" stroke="#000" stroke-width="0.12" text-anchor="start" textLength="28.0" lengthAdjust="spacingAndGlyphs">36.975</text>
<text x="1697" y="533" font-size="10" fill="#000" stroke="#000" stroke-width="0.12" text-anchor="start" textLength="28.0" lengthAdjust="spacingAndGlyphs">36.465</text>
<text x="1697" y="566" font-size="10" fill="#000" stroke="#000" stroke-width="0.12" text-anchor="start" textLength="28.0" lengthAdjust="spacingAndGlyphs">35.955</text>
<g shape-rendering="crispEdges">
<rect x="1693" y="68" width="31" height="11" fill="#ff0000"/>
<rect x="1693" y="197" width="31" height="11" fill="#ff0000"/>
<rect x="1693" y="326" width="31" height="11" fill="#ff0000"/>
<rect x="1693" y="455" width="31" height="1" fill="#000"/>
<rect x="1693" y="456" width="31" height="11" fill="#32cd32"/>
</g>
<text x="1697" y="77" font-size="10" fill="#fff" stroke="#fff" stroke-width="0.12" text-anchor="start" textLength="28.0" lengthAdjust="spacingAndGlyphs">43.500</text>
<text x="1697" y="206" font-size="10" fill="#fff" stroke="#fff" stroke-width="0.12" text-anchor="start" textLength="28.0" lengthAdjust="spacingAndGlyphs">41.500</text>
<text x="1697" y="335" font-size="10" fill="#fff" stroke="#fff" stroke-width="0.12" text-anchor="start" textLength="28.0" lengthAdjust="spacingAndGlyphs">39.500</text>
<text x="1697" y="465" font-size="10" fill="#fff" stroke="#fff" stroke-width="0.12" text-anchor="start" textLength="28.0" lengthAdjust="spacingAndGlyphs">37.500</text>
<text x="1695" y="578" font-size="10" fill="#000" stroke="#000" stroke-width="0.12" text-anchor="start" textLength="28.0" lengthAdjust="spacingAndGlyphs">0.9779</text>
<text x="1695" y="638" font-size="10" fill="#000" stroke="#000" stroke-width="0.12" text-anchor="start" textLength="18.0" lengthAdjust="spacingAndGlyphs">0.00</text>
<text x="1694.7" y="724" font-size="10" fill="#000" stroke="#000" stroke-width="0.12" text-anchor="start" textLength="27.0" lengthAdjust="spacingAndGlyphs">-1.382</text>
<text x="1695" y="739" font-size="10" fill="#000" stroke="#000" stroke-width="0.12" text-anchor="start" textLength="15.0" lengthAdjust="spacingAndGlyphs">100</text>
<text x="1695" y="777" font-size="10" fill="#000" stroke="#000" stroke-width="0.12" text-anchor="start" textLength="10.0" lengthAdjust="spacingAndGlyphs">70</text>
<text x="1695" y="834" font-size="10" fill="#000" stroke="#000" stroke-width="0.12" text-anchor="start" textLength="10.0" lengthAdjust="spacingAndGlyphs">30</text>
<text x="1695" y="871" font-size="10" fill="#000" stroke="#000" stroke-width="0.12" text-anchor="start" textLength="5.0" lengthAdjust="spacingAndGlyphs">0</text>
<path d="M9 38h7l-3.5 4z" fill="#000"/>
<text x="21.2" y="43" font-size="10" fill="#000" stroke="#000" stroke-width="0.12" text-anchor="start" textLength="43.0" lengthAdjust="spacingAndGlyphs">USOil-,H4</text>
<text x="69.9" y="43" font-size="10" fill="#000" stroke="#000" stroke-width="0.12" text-anchor="start" textLength="28.0" lengthAdjust="spacingAndGlyphs">37.290</text>
<text x="100.95" y="43" font-size="10" fill="#000" stroke="#000" stroke-width="0.12" text-anchor="start" textLength="28.0" lengthAdjust="spacingAndGlyphs">37.530</text>
<text x="132.0" y="43" font-size="10" fill="#000" stroke="#000" stroke-width="0.12" text-anchor="start" textLength="28.0" lengthAdjust="spacingAndGlyphs">37.240</text>
<text x="163.05" y="43" font-size="10" fill="#000" stroke="#000" stroke-width="0.12" text-anchor="start" textLength="28.0" lengthAdjust="spacingAndGlyphs">37.520</text>
<text x="10.3" y="580" font-size="10" fill="#000" stroke="#000" stroke-width="0.12" text-anchor="start" textLength="65.5" lengthAdjust="spacingAndGlyphs">MACD(12,26,9)</text>
<text x="78.7" y="580" font-size="10" fill="#000" stroke="#000" stroke-width="0.12" text-anchor="start" textLength="31.7" lengthAdjust="spacingAndGlyphs">-0.6893</text>
<text x="113.2" y="580" font-size="10" fill="#000" stroke="#000" stroke-width="0.12" text-anchor="start" textLength="31.2" lengthAdjust="spacingAndGlyphs">-0.5515</text>
<text x="10.5" y="741" font-size="10" fill="#000" stroke="#000" stroke-width="0.12" text-anchor="start" textLength="31.7" lengthAdjust="spacingAndGlyphs">RSI(14)</text>
<text x="44.8" y="741" font-size="10" fill="#000" stroke="#000" stroke-width="0.12" text-anchor="start" textLength="33.0" lengthAdjust="spacingAndGlyphs">37.2700</text>
<text x="5.3" y="887" font-size="10" fill="#000" stroke="#000" stroke-width="0.12" text-anchor="start" textLength="53.0" lengthAdjust="spacingAndGlyphs">18 Aug 2020</text>
<text x="69.3" y="887" font-size="10" fill="#000" stroke="#000" stroke-width="0.12" text-anchor="start" textLength="56.0" lengthAdjust="spacingAndGlyphs">19 Aug 20:00</text>
<text x="133.3" y="887" font-size="10" fill="#000" stroke="#000" stroke-width="0.12" text-anchor="start" textLength="56.0" lengthAdjust="spacingAndGlyphs">21 Aug 04:00</text>
<text x="197.3" y="887" font-size="10" fill="#000" stroke="#000" stroke-width="0.12" text-anchor="start" textLength="56.0" lengthAdjust="spacingAndGlyphs">24 Aug 08:00</text>
<text x="261.3" y="887" font-size="10" fill="#000" stroke="#000" stroke-width="0.12" text-anchor="start" textLength="56.0" lengthAdjust="spacingAndGlyphs">25 Aug 16:00</text>
<text x="325.3" y="887" font-size="10" fill="#000" stroke="#000" stroke-width="0.12" text-anchor="start" textLength="56.0" lengthAdjust="spacingAndGlyphs">27 Aug 00:00</text>
<text x="389.3" y="887" font-size="10" fill="#000" stroke="#000" stroke-width="0.12" text-anchor="start" textLength="56.0" lengthAdjust="spacingAndGlyphs">28 Aug 08:00</text>
<text x="453.3" y="887" font-size="10" fill="#000" stroke="#000" stroke-width="0.12" text-anchor="start" textLength="56.0" lengthAdjust="spacingAndGlyphs">31 Aug 12:00</text>
<text x="517.3" y="887" font-size="10" fill="#000" stroke="#000" stroke-width="0.12" text-anchor="start" textLength="50.0" lengthAdjust="spacingAndGlyphs">1 Sep 20:00</text>
<text x="581.3" y="887" font-size="10" fill="#000" stroke="#000" stroke-width="0.12" text-anchor="start" textLength="50.0" lengthAdjust="spacingAndGlyphs">3 Sep 04:00</text>
<text x="645.3" y="887" font-size="10" fill="#000" stroke="#000" stroke-width="0.12" text-anchor="start" textLength="50.0" lengthAdjust="spacingAndGlyphs">4 Sep 12:00</text>
<text x="709.3" y="887" font-size="10" fill="#000" stroke="#000" stroke-width="0.12" text-anchor="start" textLength="50.0" lengthAdjust="spacingAndGlyphs">7 Sep 16:00</text>
<text x="773.3" y="887" font-size="10" fill="#000" stroke="#000" stroke-width="0.12" text-anchor="start" textLength="50.0" lengthAdjust="spacingAndGlyphs">9 Sep 00:00</text>
<text x="837.3" y="887" font-size="10" fill="#000" stroke="#000" stroke-width="0.12" text-anchor="start" textLength="55.0" lengthAdjust="spacingAndGlyphs">10 Sep 08:00</text>
<text x="901.3" y="887" font-size="10" fill="#000" stroke="#000" stroke-width="0.12" text-anchor="start" textLength="55.0" lengthAdjust="spacingAndGlyphs">11 Sep 16:00</text>
<text x="965.3" y="887" font-size="10" fill="#000" stroke="#000" stroke-width="0.12" text-anchor="start" textLength="55.0" lengthAdjust="spacingAndGlyphs">14 Sep 20:00</text>
<text x="1029.3" y="887" font-size="10" fill="#000" stroke="#000" stroke-width="0.12" text-anchor="start" textLength="55.0" lengthAdjust="spacingAndGlyphs">16 Sep 04:00</text>
<text x="1093.3" y="887" font-size="10" fill="#000" stroke="#000" stroke-width="0.12" text-anchor="start" textLength="55.0" lengthAdjust="spacingAndGlyphs">17 Sep 12:00</text>
<text x="1157.3" y="887" font-size="10" fill="#000" stroke="#000" stroke-width="0.12" text-anchor="start" textLength="55.0" lengthAdjust="spacingAndGlyphs">18 Sep 20:00</text>
<text x="1221.3" y="887" font-size="10" fill="#000" stroke="#000" stroke-width="0.12" text-anchor="start" textLength="55.0" lengthAdjust="spacingAndGlyphs">22 Sep 00:00</text>
<text x="1285.3" y="887" font-size="10" fill="#000" stroke="#000" stroke-width="0.12" text-anchor="start" textLength="55.0" lengthAdjust="spacingAndGlyphs">23 Sep 08:00</text>
<text x="1349.3" y="887" font-size="10" fill="#000" stroke="#000" stroke-width="0.12" text-anchor="start" textLength="55.0" lengthAdjust="spacingAndGlyphs">24 Sep 16:00</text>
<text x="1413.3" y="887" font-size="10" fill="#000" stroke="#000" stroke-width="0.12" text-anchor="start" textLength="55.0" lengthAdjust="spacingAndGlyphs">27 Sep 23:00</text>
<text x="1477.3" y="887" font-size="10" fill="#000" stroke="#000" stroke-width="0.12" text-anchor="start" textLength="55.0" lengthAdjust="spacingAndGlyphs">29 Sep 04:00</text>
<text x="1541.3" y="887" font-size="10" fill="#000" stroke="#000" stroke-width="0.12" text-anchor="start" textLength="55.0" lengthAdjust="spacingAndGlyphs">30 Sep 12:00</text>
<text x="1605.3" y="887" font-size="10" fill="#000" stroke="#000" stroke-width="0.12" text-anchor="start" textLength="48.5" lengthAdjust="spacingAndGlyphs">1 Oct 20:00</text>
<text x="1669.3" y="887" font-size="10" fill="#000" stroke="#000" stroke-width="0.12" text-anchor="start" textLength="48.5" lengthAdjust="spacingAndGlyphs">5 Oct 00:00</text>
<text x="1220.5" y="526.3" font-size="33.4" fill="#ea1c24" text-anchor="start" textLength="232" lengthAdjust="spacingAndGlyphs" style="font-family:'Liberation Sans','Noto Sans CJK SC',sans-serif">多空转折点37.5</text>
<g fill="#555" shape-rendering="crispEdges"><rect x="2" y="8" width="1" height="1"/><rect x="4" y="8" width="1" height="1"/><rect x="6" y="8" width="1" height="1"/><rect x="8" y="8" width="1" height="1"/><rect x="10" y="8" width="1" height="1"/><rect x="12" y="8" width="1" height="1"/><rect x="14" y="8" width="1" height="1"/><rect x="2" y="11" width="1" height="1"/><rect x="4" y="11" width="1" height="1"/><rect x="6" y="11" width="1" height="1"/><rect x="8" y="11" width="1" height="1"/><rect x="10" y="11" width="1" height="1"/><rect x="12" y="11" width="1" height="1"/><rect x="14" y="11" width="1" height="1"/><rect x="2" y="15" width="1" height="1"/><rect x="4" y="15" width="1" height="1"/><rect x="6" y="15" width="1" height="1"/><rect x="8" y="15" width="1" height="1"/><rect x="10" y="15" width="1" height="1"/><rect x="12" y="15" width="1" height="1"/><rect x="14" y="15" width="1" height="1"/><rect x="2" y="19" width="1" height="1"/><rect x="4" y="19" width="1" height="1"/><rect x="6" y="19" width="1" height="1"/><rect x="8" y="19" width="1" height="1"/><rect x="10" y="19" width="1" height="1"/></g><g fill="#444" shape-rendering="crispEdges"><rect x="12" y="19" width="2" height="5"/><rect x="12" y="19" width="4" height="1"/><rect x="12" y="21" width="3" height="1"/></g><path d="M33.7 20L36.3 11.9H37.2L39.8 20M34.8 17.2H38.7" fill="none" stroke="#555" stroke-width="1.5" stroke-linejoin="bevel"/><rect x="59.5" y="9.5" width="11" height="12" fill="none" stroke="#555" stroke-dasharray="1 1" shape-rendering="crispEdges"/><path d="M61.5 12.5h7v1.5h-2.7v6h-1.6v-6h-2.7z" fill="#555"/><rect x="58" y="8" width="2" height="2" fill="#666" shape-rendering="crispEdges"/><path d="M89.5 8.8l3.7 3-3.7 2.4-3.7-2.4z M96.7 16.4l3.7 2.8-3.7 3-3.7-3z" fill="#505050"/><path d="M88 16.3l2.3 2 4.3-5.2" fill="none" stroke="#555" stroke-width="1.3"/><path d="M107 14.3h5.4l-2.7 2.8z" fill="#222"/><g shape-rendering="crispEdges"><rect x="118" y="2" width="1" height="25" fill="#a0a0a0"/><rect x="119" y="2" width="1" height="25" fill="#fff"/><rect x="122" y="5" width="3" height="1" fill="#a0a0a0"/><rect x="122" y="7" width="3" height="1" fill="#a0a0a0"/><rect x="122" y="9" width="3" height="1" fill="#a0a0a0"/><rect x="122" y="11" width="3" height="1" fill="#a0a0a0"/><rect x="122" y="13" width="3" height="1" fill="#a0a0a0"/><rect x="122" y="15" width="3" height="1" fill="#a0a0a0"/><rect x="122" y="17" width="3" height="1" fill="#a0a0a0"/><rect x="122" y="19" width="3" height="1" fill="#a0a0a0"/><rect x="122" y="21" width="3" height="1" fill="#a0a0a0"/><rect x="122" y="23" width="3" height="1" fill="#a0a0a0"/><rect x="379" y="3" width="1" height="23" fill="#a0a0a0"/><rect x="380" y="3" width="1" height="23" fill="#fff"/><defs><pattern id="dz" width="2" height="2" patternUnits="userSpaceOnUse"><rect width="2" height="2" fill="#f0f0f0"/><rect width="1" height="1" fill="#fff"/><rect x="1" y="1" width="1" height="1" fill="#fff"/></pattern></defs><rect x="269" y="4" width="24" height="21" fill="url(#dz)"/><rect x="268" y="3" width="25" height="1" fill="#a0a0a0"/><rect x="268" y="3" width="1" height="22" fill="#a0a0a0"/><rect x="293" y="3" width="1" height="23" fill="#fff"/><rect x="268" y="25" width="26" height="1" fill="#fff"/></g><text x="140" y="19" font-size="10" fill="#404040" stroke="#404040" stroke-width="0.15" text-anchor="middle" textLength="12.9" lengthAdjust="spacingAndGlyphs">M1</text><text x="168" y="19" font-size="10" fill="#404040" stroke="#404040" stroke-width="0.15" text-anchor="middle" textLength="12.9" lengthAdjust="spacingAndGlyphs">M5</text><text x="196" y="19" font-size="10" fill="#404040" stroke="#404040" stroke-width="0.15" text-anchor="middle" textLength="18.3" lengthAdjust="spacingAndGlyphs">M15</text><text x="224" y="19" font-size="10" fill="#404040" stroke="#404040" stroke-width="0.15" text-anchor="middle" textLength="18.3" lengthAdjust="spacingAndGlyphs">M30</text><text x="252" y="19" font-size="10" fill="#404040" stroke="#404040" stroke-width="0.15" text-anchor="middle" textLength="12.9" lengthAdjust="spacingAndGlyphs">H1</text><text x="280" y="19" font-size="10" fill="#404040" stroke="#404040" stroke-width="0.15" text-anchor="middle" textLength="12.9" lengthAdjust="spacingAndGlyphs">H4</text><text x="308" y="19" font-size="10" fill="#404040" stroke="#404040" stroke-width="0.15" text-anchor="middle" textLength="12.9" lengthAdjust="spacingAndGlyphs">D1</text><text x="336" y="19" font-size="10" fill="#404040" stroke="#404040" stroke-width="0.15" text-anchor="middle" textLength="15.0" lengthAdjust="spacingAndGlyphs">W1</text><text x="364" y="19" font-size="10" fill="#404040" stroke="#404040" stroke-width="0.15" text-anchor="middle" textLength="15.0" lengthAdjust="spacingAndGlyphs">MN</text>
</svg></body></html>
